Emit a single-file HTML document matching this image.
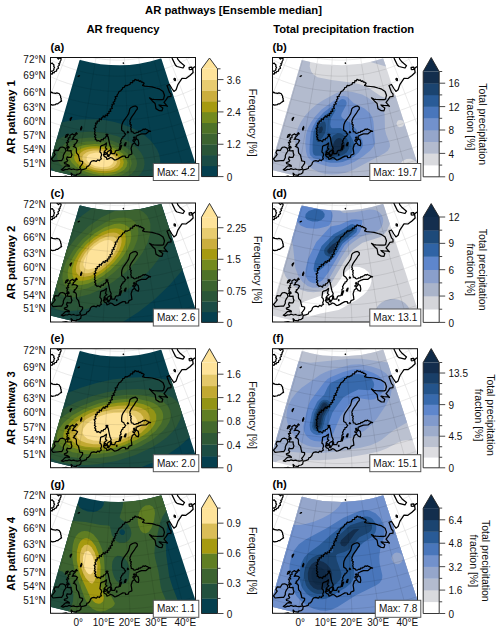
<!DOCTYPE html><html><head><meta charset="utf-8"><style>html,body{margin:0;padding:0;background:#fff}svg{display:block}.t10{font-family:"Liberation Sans",sans-serif;font-size:10px;fill:#111}.t105{font-family:"Liberation Sans",sans-serif;font-size:10.5px;fill:#111}.b11{font-family:"Liberation Sans",sans-serif;font-size:11.25px;font-weight:bold;fill:#000}</style></head><body>
<svg width="500" height="631" viewBox="0 0 500 631">
<defs><clipPath id="fr"><rect x="0" y="0" width="145.0" height="119.0"/></clipPath><clipPath id="fan"><path d="M29.6,3.2 30.9,3.6 32.2,4.0 33.6,4.3 34.9,4.7 36.3,5.0 37.6,5.3 39.0,5.6 40.4,5.9 41.7,6.1 43.1,6.4 44.5,6.6 45.8,6.9 47.2,7.1 48.6,7.3 49.9,7.5 51.3,7.6 52.7,7.8 54.1,7.9 55.5,8.1 56.9,8.2 58.2,8.3 59.6,8.4 61.0,8.4 62.4,8.5 63.8,8.6 65.2,8.6 66.6,8.6 68.0,8.6 69.4,8.6 70.7,8.6 72.1,8.5 73.5,8.5 74.9,8.4 76.3,8.3 77.7,8.3 79.1,8.1 80.5,8.0 81.8,7.9 83.2,7.7 84.6,7.6 86.0,7.4 87.4,7.2 88.7,7.0 90.1,6.8 91.5,6.6 92.8,6.3 94.2,6.1 95.6,5.8 96.9,5.5 98.3,5.2 99.6,4.9 101.0,4.6 102.3,4.2 103.7,3.9 105.0,3.5 106.4,3.1 107.7,2.7 109.0,2.3 110.3,1.9 145.0,109.0 142.6,109.8 140.2,110.5 137.8,111.2 135.4,111.9 133.0,112.6 130.5,113.2 128.1,113.8 125.6,114.4 123.2,115.0 120.7,115.5 118.2,116.1 115.8,116.6 113.3,117.0 110.8,117.5 108.3,117.9 105.8,118.3 103.3,118.7 100.8,119.0 98.3,119.3 95.8,119.6 93.3,119.9 90.8,120.1 88.3,120.4 85.8,120.6 83.3,120.7 80.7,120.9 78.2,121.0 75.7,121.1 73.2,121.1 70.7,121.2 68.1,121.2 65.6,121.2 63.1,121.2 60.6,121.1 58.1,121.0 55.5,120.9 53.0,120.8 50.5,120.6 48.0,120.4 45.5,120.2 43.0,120.0 40.5,119.7 38.0,119.4 35.4,119.1 33.0,118.8 30.5,118.4 28.0,118.0 25.5,117.6 23.0,117.2 20.5,116.7 18.0,116.2 15.6,115.7 13.1,115.2 10.6,114.6 8.2,114.0 5.7,113.4 3.3,112.8 0.9,112.1 -1.6,111.4Z"/></clipPath><path id="grat" d="M-138.2,62.7 -134.4,66.6 -130.6,70.4 -126.8,74.2 -122.8,77.9 -118.8,81.5 -114.7,85.1 -110.5,88.5 -106.3,91.9 -102.0,95.2 -97.7,98.4 -93.3,101.6 -88.8,104.6 -84.3,107.6 -79.7,110.5 -75.1,113.2 -70.4,115.9 -65.6,118.5 -60.8,121.1 -56.0,123.5 -51.1,125.8 -46.2,128.1 -41.2,130.2 -36.2,132.2 -31.2,134.2 -26.1,136.0 -21.0,137.8 -15.8,139.4 -10.6,141.0 -5.4,142.5 -0.2,143.8 5.1,145.1 10.4,146.2 15.7,147.3 21.0,148.2 26.4,149.1 31.7,149.8 37.1,150.4 42.5,151.0 47.9,151.4 53.3,151.7 58.7,152.0 64.1,152.1 69.5,152.1 74.9,152.0 80.3,151.8 85.7,151.5 91.1,151.2 96.5,150.7 101.9,150.0 107.2,149.3 112.6,148.5 117.9,147.6 123.2,146.6 128.5,145.5 133.8,144.3 139.0,142.9 144.3,141.5 149.5,140.0 154.6,138.4 159.8,136.7 164.9,134.9 169.9,132.9 174.9,130.9 179.9,128.8 184.9,126.6 189.8,124.3 194.6,121.9 199.4,119.5 204.2,116.9 208.9,114.2 213.6,111.5 218.2,108.6 222.7,105.7 227.2,102.7 231.6,99.6 236.0,96.4 240.3,93.1 244.5,89.7 248.7,86.3 M-129.1,54.2 -125.6,58.0 -121.9,61.7 -118.2,65.3 -114.5,68.8 -110.6,72.3 -106.7,75.6 -102.7,79.0 -98.7,82.2 -94.6,85.4 -90.4,88.4 -86.2,91.4 -81.9,94.3 -77.6,97.2 -73.2,99.9 -68.8,102.6 -64.3,105.2 -59.8,107.7 -55.2,110.1 -50.6,112.4 -45.9,114.6 -41.2,116.8 -36.4,118.8 -31.7,120.8 -26.8,122.6 -22.0,124.4 -17.1,126.1 -12.1,127.6 -7.2,129.1 -2.2,130.5 2.8,131.8 7.8,133.0 12.9,134.1 18.0,135.1 23.1,136.0 28.2,136.8 33.3,137.6 38.4,138.2 43.6,138.7 48.7,139.1 53.9,139.4 59.1,139.6 64.2,139.7 69.4,139.8 74.6,139.7 79.8,139.5 84.9,139.2 90.1,138.8 95.2,138.4 100.4,137.8 105.5,137.1 110.6,136.3 115.7,135.5 120.8,134.5 125.9,133.4 130.9,132.3 135.9,131.0 140.9,129.6 145.9,128.2 150.8,126.6 155.7,125.0 160.6,123.3 165.4,121.4 170.2,119.5 175.0,117.5 179.7,115.4 184.4,113.2 189.1,110.9 193.7,108.5 198.2,106.1 202.7,103.5 207.2,100.9 211.6,98.2 215.9,95.4 220.2,92.5 224.4,89.5 228.6,86.5 232.7,83.3 236.8,80.1 240.8,76.8 M-120.1,45.7 -116.7,49.3 -113.2,52.8 -109.7,56.3 -106.0,59.6 -102.4,62.9 -98.7,66.2 -94.9,69.3 -91.0,72.4 -87.1,75.4 -83.1,78.4 -79.1,81.2 -75.0,84.0 -70.9,86.7 -66.7,89.3 -62.5,91.9 -58.2,94.3 -53.9,96.7 -49.5,99.0 -45.1,101.2 -40.7,103.3 -36.2,105.4 -31.6,107.3 -27.1,109.2 -22.5,111.0 -17.8,112.7 -13.2,114.3 -8.5,115.8 -3.7,117.2 1.0,118.5 5.8,119.8 10.6,120.9 15.4,122.0 20.3,122.9 25.1,123.8 30.0,124.5 34.9,125.2 39.8,125.8 44.7,126.3 49.6,126.7 54.5,127.0 59.5,127.2 64.4,127.3 69.3,127.3 74.3,127.3 79.2,127.1 84.1,126.8 89.1,126.5 94.0,126.0 98.9,125.4 103.8,124.8 108.6,124.1 113.5,123.2 118.4,122.3 123.2,121.3 128.0,120.2 132.8,119.0 137.5,117.7 142.3,116.3 147.0,114.8 151.7,113.2 156.3,111.6 160.9,109.8 165.5,108.0 170.1,106.1 174.6,104.1 179.0,102.0 183.5,99.8 187.8,97.5 192.2,95.2 196.5,92.8 200.7,90.2 204.9,87.7 209.1,85.0 213.2,82.2 217.2,79.4 221.2,76.5 225.1,73.5 229.0,70.4 232.8,67.3 M-110.9,37.2 -107.6,40.6 -104.3,43.9 -101.0,47.2 -97.6,50.4 -94.1,53.5 -90.5,56.6 -86.9,59.6 -83.3,62.6 -79.5,65.4 -75.8,68.2 -71.9,70.9 -68.1,73.6 -64.1,76.1 -60.2,78.6 -56.1,81.1 -52.1,83.4 -48.0,85.7 -43.8,87.8 -39.6,89.9 -35.4,92.0 -31.1,93.9 -26.8,95.8 -22.4,97.5 -18.1,99.2 -13.6,100.8 -9.2,102.4 -4.7,103.8 -0.2,105.1 4.3,106.4 8.8,107.6 13.4,108.7 18.0,109.7 22.6,110.6 27.2,111.4 31.8,112.1 36.5,112.8 41.1,113.3 45.8,113.8 50.5,114.2 55.2,114.5 59.9,114.7 64.6,114.8 69.3,114.8 74.0,114.7 78.6,114.5 83.3,114.3 88.0,113.9 92.7,113.5 97.3,113.0 102.0,112.4 106.6,111.7 111.3,110.9 115.9,110.0 120.5,109.0 125.0,108.0 129.6,106.8 134.1,105.6 138.6,104.3 143.1,102.9 147.6,101.4 152.0,99.8 156.4,98.1 160.7,96.4 165.1,94.6 169.3,92.7 173.6,90.7 177.8,88.6 182.0,86.4 186.1,84.2 190.2,81.9 194.2,79.5 198.2,77.0 202.2,74.5 206.1,71.9 209.9,69.2 213.7,66.4 217.4,63.6 221.1,60.7 224.7,57.7 M-101.6,28.5 -98.5,31.7 -95.4,34.9 -92.2,38.0 -89.0,41.0 -85.7,44.0 -82.3,46.9 -78.9,49.8 -75.4,52.6 -71.9,55.3 -68.3,57.9 -64.7,60.5 -61.0,63.0 -57.3,65.4 -53.5,67.8 -49.7,70.1 -45.8,72.3 -41.9,74.5 -38.0,76.5 -34.0,78.5 -30.0,80.4 -25.9,82.3 -21.9,84.0 -17.7,85.7 -13.6,87.3 -9.4,88.8 -5.2,90.3 -1.0,91.6 3.3,92.9 7.6,94.1 11.9,95.2 16.2,96.3 20.6,97.2 24.9,98.1 29.3,98.9 33.7,99.6 38.1,100.2 42.5,100.7 47.0,101.1 51.4,101.5 55.8,101.8 60.3,101.9 64.7,102.0 69.2,102.1 73.6,102.0 78.1,101.8 82.5,101.6 87.0,101.3 91.4,100.9 95.8,100.4 100.2,99.8 104.6,99.1 109.0,98.4 113.4,97.5 117.7,96.6 122.1,95.6 126.4,94.5 130.7,93.4 134.9,92.1 139.2,90.8 143.4,89.4 147.6,87.9 151.8,86.3 155.9,84.6 160.0,82.9 164.1,81.1 168.1,79.2 172.1,77.2 176.0,75.2 179.9,73.1 183.8,70.9 187.6,68.6 191.4,66.3 195.2,63.9 198.9,61.4 202.5,58.8 206.1,56.2 209.6,53.5 213.1,50.8 216.6,47.9 M-92.1,19.7 -89.2,22.7 -86.3,25.7 -83.3,28.6 -80.2,31.5 -77.1,34.3 -73.9,37.1 -70.7,39.8 -67.4,42.4 -64.1,44.9 -60.7,47.4 -57.3,49.9 -53.8,52.3 -50.3,54.6 -46.7,56.8 -43.1,58.9 -39.5,61.0 -35.8,63.1 -32.1,65.0 -28.3,66.9 -24.5,68.7 -20.7,70.4 -16.9,72.1 -13.0,73.7 -9.1,75.2 -5.1,76.6 -1.1,78.0 2.9,79.3 6.9,80.5 10.9,81.6 15.0,82.7 19.1,83.7 23.2,84.6 27.3,85.4 31.5,86.1 35.6,86.8 39.8,87.3 43.9,87.8 48.1,88.3 52.3,88.6 56.5,88.8 60.7,89.0 64.9,89.1 69.1,89.1 73.3,89.1 77.5,88.9 81.7,88.7 85.9,88.4 90.1,88.0 94.2,87.5 98.4,87.0 102.6,86.3 106.7,85.6 110.8,84.9 114.9,84.0 119.0,83.0 123.1,82.0 127.2,80.9 131.2,79.7 135.2,78.5 139.2,77.1 143.1,75.7 147.1,74.2 151.0,72.7 154.8,71.0 158.7,69.3 162.5,67.6 166.3,65.7 170.0,63.8 173.7,61.8 177.3,59.7 181.0,57.6 184.5,55.4 188.1,53.1 191.5,50.7 195.0,48.3 198.4,45.8 201.7,43.3 205.0,40.7 208.3,38.0 M-82.5,10.7 -79.8,13.5 -77.0,16.3 -74.2,19.1 -71.3,21.8 -68.3,24.4 -65.4,27.0 -62.3,29.5 -59.2,32.0 -56.1,34.4 -52.9,36.8 -49.7,39.0 -46.5,41.3 -43.2,43.4 -39.8,45.5 -36.4,47.6 -33.0,49.5 -29.6,51.4 -26.1,53.3 -22.5,55.0 -19.0,56.7 -15.4,58.4 -11.8,59.9 -8.1,61.4 -4.4,62.8 -0.7,64.2 3.0,65.5 6.8,66.7 10.6,67.8 14.4,68.9 18.2,69.9 22.0,70.8 25.9,71.6 29.8,72.4 33.6,73.1 37.5,73.7 41.5,74.2 45.4,74.7 49.3,75.1 53.2,75.4 57.2,75.7 61.1,75.8 65.1,75.9 69.0,75.9 73.0,75.9 76.9,75.7 80.9,75.5 84.8,75.2 88.7,74.9 92.6,74.4 96.6,73.9 100.5,73.3 104.4,72.6 108.2,71.9 112.1,71.1 115.9,70.2 119.8,69.2 123.6,68.2 127.4,67.1 131.1,65.9 134.9,64.7 138.6,63.3 142.3,61.9 145.9,60.5 149.6,58.9 153.2,57.3 156.8,55.7 160.3,53.9 163.8,52.1 167.3,50.2 170.7,48.3 174.1,46.3 177.5,44.2 180.8,42.0 184.1,39.8 187.3,37.6 190.5,35.3 193.6,32.9 196.7,30.4 199.8,27.9 M-72.6,1.4 -70.0,4.1 -67.4,6.7 -64.8,9.3 -62.1,11.8 -59.4,14.3 -56.6,16.7 -53.8,19.0 -50.9,21.3 -48.0,23.6 -45.0,25.8 -42.0,27.9 -38.9,30.0 -35.9,32.0 -32.7,34.0 -29.6,35.9 -26.4,37.7 -23.1,39.5 -19.9,41.2 -16.6,42.9 -13.3,44.5 -9.9,46.0 -6.5,47.4 -3.1,48.8 0.3,50.2 3.8,51.4 7.3,52.6 10.8,53.7 14.3,54.8 17.9,55.8 21.5,56.7 25.0,57.6 28.6,58.4 32.3,59.1 35.9,59.7 39.5,60.3 43.2,60.8 46.9,61.2 50.5,61.6 54.2,61.9 57.9,62.1 61.6,62.3 65.2,62.4 68.9,62.4 72.6,62.3 76.3,62.2 80.0,62.0 83.7,61.7 87.3,61.4 91.0,61.0 94.7,60.5 98.3,59.9 101.9,59.3 105.6,58.6 109.2,57.9 112.8,57.0 116.3,56.1 119.9,55.2 123.4,54.1 127.0,53.0 130.4,51.9 133.9,50.6 137.4,49.3 140.8,47.9 144.2,46.5 147.6,45.0 150.9,43.4 154.2,41.8 157.5,40.1 160.7,38.4 163.9,36.5 167.1,34.7 170.2,32.7 173.3,30.7 176.4,28.7 179.4,26.6 182.4,24.4 185.3,22.2 188.2,19.9 191.1,17.5 M-62.4,-8.1 -60.0,-5.7 -57.6,-3.2 -55.1,-0.8 -52.7,1.5 -50.1,3.8 -47.5,6.0 -44.9,8.2 -42.2,10.4 -39.5,12.4 -36.8,14.5 -34.0,16.5 -31.2,18.4 -28.3,20.3 -25.4,22.1 -22.5,23.8 -19.5,25.5 -16.5,27.2 -13.5,28.8 -10.4,30.3 -7.4,31.8 -4.2,33.2 -1.1,34.5 2.1,35.8 5.3,37.1 8.5,38.2 11.7,39.3 15.0,40.4 18.2,41.4 21.5,42.3 24.8,43.1 28.2,43.9 31.5,44.7 34.8,45.3 38.2,45.9 41.6,46.5 45.0,46.9 48.4,47.3 51.8,47.7 55.2,48.0 58.6,48.2 62.0,48.3 65.4,48.4 68.8,48.4 72.3,48.3 75.7,48.2 79.1,48.0 82.5,47.8 85.9,47.5 89.3,47.1 92.7,46.6 96.1,46.1 99.4,45.6 102.8,44.9 106.1,44.2 109.5,43.4 112.8,42.6 116.1,41.7 119.4,40.7 122.6,39.7 125.9,38.6 129.1,37.5 132.3,36.3 135.5,35.0 138.6,33.7 141.7,32.3 144.8,30.8 147.9,29.3 150.9,27.8 154.0,26.1 156.9,24.4 159.9,22.7 162.8,20.9 165.6,19.1 168.5,17.1 171.3,15.2 174.0,13.2 176.8,11.1 179.5,9.0 182.1,6.8 M-51.7,-18.0 -49.6,-15.8 -47.4,-13.5 -45.1,-11.3 -42.8,-9.2 -40.5,-7.1 -38.1,-5.0 -35.7,-3.0 -33.3,-1.1 -30.8,0.9 -28.3,2.7 -25.7,4.5 -23.1,6.3 -20.5,8.0 -17.8,9.7 -15.1,11.3 -12.4,12.9 -9.7,14.4 -6.9,15.9 -4.1,17.3 -1.2,18.6 1.6,19.9 4.5,21.2 7.4,22.3 10.3,23.5 13.3,24.5 16.3,25.6 19.3,26.5 22.3,27.4 25.3,28.3 28.3,29.1 31.4,29.8 34.5,30.5 37.5,31.1 40.6,31.6 43.7,32.1 46.8,32.5 50.0,32.9 53.1,33.2 56.2,33.5 59.3,33.7 62.5,33.8 65.6,33.9 68.8,33.9 71.9,33.8 75.0,33.7 78.2,33.5 81.3,33.3 84.4,33.0 87.5,32.7 90.7,32.3 93.8,31.8 96.9,31.3 99.9,30.7 103.0,30.0 106.1,29.3 109.1,28.6 112.2,27.7 115.2,26.9 118.2,25.9 121.1,24.9 124.1,23.9 127.0,22.7 129.9,21.6 132.8,20.4 135.7,19.1 138.6,17.7 141.4,16.4 144.2,14.9 146.9,13.4 149.7,11.9 152.4,10.3 155.0,8.6 157.7,6.9 160.3,5.2 162.8,3.4 165.4,1.5 167.9,-0.4 170.3,-2.3 172.8,-4.3 M-40.6,-28.4 -38.7,-26.3 -36.7,-24.3 -34.6,-22.3 -32.6,-20.4 -30.4,-18.5 -28.3,-16.6 -26.1,-14.8 -23.9,-13.0 -21.6,-11.3 -19.3,-9.6 -17.0,-7.9 -14.7,-6.3 -12.3,-4.8 -9.9,-3.3 -7.4,-1.8 -4.9,-0.4 -2.5,1.0 0.1,2.3 2.6,3.6 5.2,4.8 7.8,6.0 10.4,7.1 13.0,8.2 15.7,9.2 18.4,10.2 21.1,11.1 23.8,12.0 26.5,12.8 29.2,13.6 32.0,14.3 34.8,15.0 37.5,15.6 40.3,16.1 43.1,16.6 46.0,17.1 48.8,17.5 51.6,17.8 54.4,18.1 57.3,18.3 60.1,18.5 63.0,18.6 65.8,18.7 68.7,18.7 71.5,18.6 74.4,18.5 77.2,18.4 80.0,18.2 82.9,17.9 85.7,17.6 88.5,17.2 91.3,16.8 94.2,16.3 97.0,15.8 99.7,15.2 102.5,14.5 105.3,13.9 108.0,13.1 110.8,12.3 113.5,11.5 116.2,10.5 118.9,9.6 121.5,8.6 124.2,7.5 126.8,6.4 129.4,5.3 132.0,4.0 134.5,2.8 137.1,1.5 139.6,0.1 142.0,-1.3 144.5,-2.7 146.9,-4.2 149.3,-5.8 151.7,-7.4 154.0,-9.0 156.3,-10.7 158.6,-12.4 160.8,-14.2 163.0,-16.0 M-28.9,-39.4 -27.1,-37.5 -25.3,-35.7 -23.5,-34.0 -21.7,-32.2 -19.8,-30.5 -17.9,-28.9 -15.9,-27.2 -13.9,-25.7 -11.9,-24.1 -9.9,-22.6 -7.8,-21.1 -5.7,-19.7 -3.6,-18.3 -1.4,-17.0 0.7,-15.6 2.9,-14.4 5.2,-13.2 7.4,-12.0 9.7,-10.8 12.0,-9.7 14.3,-8.7 16.6,-7.7 19.0,-6.7 21.3,-5.8 23.7,-4.9 26.1,-4.1 28.5,-3.3 31.0,-2.6 33.4,-1.9 35.9,-1.3 38.3,-0.7 40.8,-0.2 43.3,0.3 45.8,0.8 48.3,1.2 50.8,1.5 53.4,1.8 55.9,2.1 58.4,2.3 60.9,2.4 63.5,2.5 66.0,2.6 68.6,2.6 71.1,2.6 73.6,2.5 76.2,2.3 78.7,2.1 81.2,1.9 83.8,1.6 86.3,1.3 88.8,0.9 91.3,0.5 93.8,0.0 96.3,-0.5 98.7,-1.1 101.2,-1.7 103.7,-2.4 106.1,-3.1 108.5,-3.8 110.9,-4.7 113.3,-5.5 115.7,-6.4 118.0,-7.3 120.4,-8.3 122.7,-9.4 125.0,-10.4 127.3,-11.6 129.5,-12.7 131.8,-13.9 134.0,-15.2 136.2,-16.5 138.3,-17.8 140.5,-19.2 142.6,-20.6 144.6,-22.1 146.7,-23.6 148.7,-25.1 150.7,-26.7 152.7,-28.3 M-16.3,-51.2 -14.7,-49.6 -13.2,-48.0 -11.6,-46.4 -10.0,-44.9 -8.4,-43.5 -6.7,-42.0 -5.0,-40.6 -3.3,-39.2 -1.5,-37.9 0.2,-36.6 2.0,-35.3 3.9,-34.0 5.7,-32.8 7.6,-31.7 9.5,-30.5 11.4,-29.4 13.3,-28.4 15.3,-27.3 17.3,-26.3 19.2,-25.4 21.3,-24.5 23.3,-23.6 25.3,-22.8 27.4,-22.0 29.5,-21.2 31.6,-20.5 33.7,-19.8 35.8,-19.2 37.9,-18.6 40.0,-18.0 42.2,-17.5 44.3,-17.1 46.5,-16.6 48.7,-16.2 50.9,-15.9 53.0,-15.6 55.2,-15.3 57.4,-15.1 59.6,-14.9 61.8,-14.8 64.0,-14.7 66.2,-14.7 68.5,-14.7 70.7,-14.7 72.9,-14.8 75.1,-14.9 77.3,-15.1 79.5,-15.3 81.7,-15.5 83.9,-15.8 86.0,-16.1 88.2,-16.5 90.4,-16.9 92.5,-17.4 94.7,-17.9 96.8,-18.4 99.0,-19.0 101.1,-19.6 103.2,-20.3 105.3,-21.0 107.4,-21.7 109.4,-22.5 111.5,-23.3 113.5,-24.2 115.5,-25.1 117.5,-26.0 119.5,-27.0 121.5,-28.0 123.4,-29.0 125.3,-30.1 127.2,-31.2 129.1,-32.4 131.0,-33.6 132.8,-34.8 134.6,-36.1 136.4,-37.4 138.1,-38.7 139.9,-40.1 141.6,-41.5 M-2.5,-64.1 -1.2,-62.7 0.1,-61.4 1.4,-60.1 2.8,-58.9 4.2,-57.6 5.5,-56.4 7.0,-55.2 8.4,-54.1 9.9,-53.0 11.3,-51.9 12.8,-50.8 14.4,-49.8 15.9,-48.7 17.5,-47.8 19.1,-46.8 20.7,-45.9 22.3,-45.0 23.9,-44.1 25.6,-43.3 27.2,-42.5 28.9,-41.8 30.6,-41.0 32.3,-40.3 34.0,-39.7 35.8,-39.0 37.5,-38.4 39.3,-37.9 41.0,-37.3 42.8,-36.9 44.6,-36.4 46.4,-36.0 48.2,-35.6 50.0,-35.2 51.8,-34.9 53.6,-34.6 55.5,-34.3 57.3,-34.1 59.1,-33.9 61.0,-33.8 62.8,-33.7 64.7,-33.6 66.5,-33.6 68.3,-33.6 70.2,-33.6 72.0,-33.7 73.9,-33.8 75.7,-33.9 77.5,-34.1 79.4,-34.3 81.2,-34.5 83.0,-34.8 84.9,-35.1 86.7,-35.4 88.5,-35.8 90.3,-36.2 92.1,-36.7 93.8,-37.2 95.6,-37.7 97.4,-38.2 99.1,-38.8 100.9,-39.4 102.6,-40.1 104.3,-40.8 106.0,-41.5 107.7,-42.2 109.3,-43.0 111.0,-43.8 112.6,-44.7 114.3,-45.6 115.9,-46.5 117.5,-47.4 119.0,-48.4 120.6,-49.4 122.1,-50.4 123.6,-51.5 125.1,-52.6 126.6,-53.7 128.0,-54.8 129.4,-56.0 M-144.2,68.3 -140.7,65.0 -137.3,61.8 -133.8,58.6 -130.3,55.3 -126.8,52.1 -123.3,48.8 -119.8,45.5 -116.3,42.2 -112.8,38.9 -109.2,35.6 -105.7,32.3 -102.1,28.9 -98.5,25.6 -94.8,22.2 -91.2,18.8 -87.5,15.3 -83.7,11.8 -80.0,8.3 -76.2,4.8 -72.3,1.2 -68.4,-2.5 -64.5,-6.1 -60.5,-9.9 -56.4,-13.7 -52.3,-17.5 -48.1,-21.4 -43.8,-25.4 -39.5,-29.5 -35.0,-33.7 -30.4,-37.9 -25.7,-42.3 -20.9,-46.8 -15.9,-51.5 -10.8,-56.3 -5.4,-61.3 0.2,-66.5 6.1,-72.0 12.3,-77.9 19.1,-84.1 M-121.5,90.0 -118.4,86.4 -115.3,82.8 -112.2,79.2 -109.1,75.6 -106.0,72.0 -102.9,68.4 -99.8,64.8 -96.6,61.1 -93.5,57.5 -90.3,53.8 -87.1,50.1 -83.9,46.4 -80.7,42.6 -77.5,38.9 -74.2,35.1 -70.9,31.2 -67.5,27.4 -64.2,23.5 -60.8,19.5 -57.4,15.6 -53.9,11.5 -50.4,7.4 -46.8,3.3 -43.2,-0.9 -39.5,-5.2 -35.7,-9.5 -31.9,-14.0 -28.0,-18.5 -24.0,-23.1 -19.9,-27.9 -15.8,-32.7 -11.4,-37.7 -7.0,-42.9 -2.4,-48.2 2.4,-53.8 7.4,-59.6 12.7,-65.7 18.3,-72.2 24.3,-79.1 M-96.7,109.2 -94.0,105.3 -91.3,101.4 -88.6,97.5 -85.9,93.6 -83.2,89.7 -80.5,85.7 -77.8,81.8 -75.0,77.8 -72.3,73.8 -69.6,69.8 -66.8,65.8 -64.0,61.8 -61.2,57.7 -58.4,53.6 -55.5,49.5 -52.7,45.3 -49.8,41.1 -46.9,36.9 -43.9,32.6 -40.9,28.2 -37.9,23.9 -34.8,19.4 -31.7,14.9 -28.6,10.3 -25.4,5.7 -22.1,0.9 -18.8,-3.9 -15.4,-8.8 -12.0,-13.8 -8.4,-19.0 -4.8,-24.3 -1.0,-29.7 2.8,-35.3 6.8,-41.1 11.0,-47.2 15.3,-53.5 19.9,-60.1 24.8,-67.2 30.0,-74.7 M-69.9,125.6 -67.6,121.4 -65.4,117.3 -63.1,113.1 -60.9,108.9 -58.6,104.7 -56.3,100.5 -54.1,96.3 -51.8,92.0 -49.5,87.8 -47.2,83.5 -44.9,79.2 -42.5,74.9 -40.2,70.5 -37.8,66.2 -35.4,61.7 -33.0,57.3 -30.6,52.8 -28.2,48.3 -25.7,43.7 -23.2,39.1 -20.7,34.4 -18.1,29.6 -15.5,24.8 -12.9,19.9 -10.2,15.0 -7.5,9.9 -4.7,4.8 -1.9,-0.5 1.0,-5.9 4.0,-11.4 7.0,-17.0 10.2,-22.8 13.4,-28.8 16.8,-35.0 20.2,-41.5 23.9,-48.3 27.7,-55.4 31.8,-62.9 36.1,-71.0 M-41.5,139.0 -39.7,134.6 -37.9,130.2 -36.1,125.8 -34.3,121.4 -32.5,117.0 -30.7,112.6 -28.9,108.1 -27.1,103.7 -25.3,99.2 -23.4,94.7 -21.6,90.2 -19.8,85.6 -17.9,81.0 -16.0,76.4 -14.1,71.8 -12.2,67.1 -10.3,62.4 -8.4,57.6 -6.4,52.8 -4.4,47.9 -2.4,43.0 -0.4,38.0 1.7,32.9 3.8,27.8 5.9,22.5 8.0,17.2 10.3,11.8 12.5,6.3 14.8,0.6 17.2,-5.2 19.6,-11.1 22.1,-17.2 24.6,-23.5 27.3,-30.1 30.0,-36.9 32.9,-44.0 36.0,-51.5 39.2,-59.4 42.7,-67.9 M-11.8,149.2 -10.5,144.7 -9.2,140.1 -7.9,135.5 -6.6,131.0 -5.3,126.4 -3.9,121.8 -2.6,117.2 -1.3,112.5 0.0,107.9 1.3,103.2 2.7,98.5 4.0,93.8 5.4,89.1 6.8,84.3 8.1,79.5 9.5,74.6 10.9,69.7 12.3,64.7 13.8,59.7 15.2,54.7 16.7,49.6 18.1,44.4 19.6,39.1 21.2,33.8 22.7,28.3 24.3,22.8 25.9,17.2 27.5,11.5 29.2,5.6 30.9,-0.4 32.7,-6.6 34.5,-13.0 36.4,-19.5 38.3,-26.3 40.3,-33.3 42.4,-40.7 44.6,-48.5 47.0,-56.7 49.5,-65.5 M18.9,156.2 19.7,151.5 20.5,146.8 21.3,142.2 22.1,137.5 22.9,132.8 23.7,128.1 24.5,123.3 25.3,118.6 26.1,113.8 26.9,109.0 27.7,104.2 28.6,99.4 29.4,94.5 30.2,89.6 31.1,84.7 31.9,79.7 32.8,74.7 33.7,69.6 34.5,64.5 35.4,59.3 36.3,54.0 37.2,48.7 38.2,43.3 39.1,37.9 40.1,32.3 41.0,26.6 42.0,20.9 43.0,15.0 44.0,9.0 45.1,2.8 46.2,-3.5 47.3,-10.0 48.4,-16.8 49.6,-23.7 50.9,-30.9 52.2,-38.5 53.5,-46.5 55.0,-54.9 56.5,-63.9 M50.1,159.8 50.4,155.1 50.6,150.3 50.9,145.6 51.2,140.9 51.5,136.1 51.8,131.3 52.1,126.5 52.4,121.7 52.7,116.9 53.0,112.1 53.3,107.2 53.6,102.3 53.9,97.4 54.2,92.4 54.5,87.4 54.8,82.3 55.1,77.3 55.4,72.1 55.7,66.9 56.1,61.7 56.4,56.4 56.7,51.0 57.0,45.5 57.4,40.0 57.7,34.3 58.1,28.6 58.4,22.8 58.8,16.8 59.2,10.7 59.6,4.5 59.9,-1.9 60.3,-8.5 60.8,-15.3 61.2,-22.4 61.6,-29.7 62.1,-37.4 62.6,-45.4 63.1,-53.9 63.7,-63.1 M81.5,160.0 81.2,155.3 81.0,150.5 80.8,145.8 80.6,141.1 80.3,136.3 80.1,131.5 79.9,126.7 79.7,121.9 79.4,117.1 79.2,112.2 79.0,107.4 78.7,102.5 78.5,97.5 78.3,92.6 78.0,87.6 77.8,82.5 77.6,77.4 77.3,72.3 77.1,67.1 76.8,61.8 76.6,56.5 76.3,51.1 76.0,45.6 75.8,40.1 75.5,34.5 75.2,28.7 75.0,22.9 74.7,16.9 74.4,10.8 74.1,4.6 73.8,-1.8 73.5,-8.4 73.2,-15.2 72.8,-22.3 72.5,-29.6 72.1,-37.3 71.7,-45.3 71.3,-53.9 70.9,-63.1 M112.7,156.8 112.0,152.1 111.2,147.5 110.5,142.8 109.8,138.1 109.0,133.4 108.3,128.6 107.5,123.9 106.8,119.2 106.1,114.4 105.3,109.6 104.5,104.8 103.8,99.9 103.0,95.0 102.2,90.1 101.5,85.2 100.7,80.2 99.9,75.1 99.1,70.0 98.3,64.9 97.5,59.7 96.6,54.4 95.8,49.1 95.0,43.7 94.1,38.2 93.2,32.7 92.3,27.0 91.4,21.2 90.5,15.3 89.5,9.3 88.6,3.1 87.6,-3.2 86.6,-9.8 85.5,-16.5 84.4,-23.5 83.3,-30.7 82.1,-38.3 80.8,-46.3 79.5,-54.7 78.1,-63.8 M143.4,150.3 142.2,145.7 141.0,141.1 139.7,136.6 138.5,132.0 137.2,127.4 136.0,122.7 134.7,118.1 133.5,113.5 132.2,108.8 131.0,104.1 129.7,99.4 128.4,94.7 127.1,89.9 125.8,85.1 124.5,80.3 123.2,75.4 121.8,70.5 120.5,65.5 119.1,60.5 117.8,55.4 116.4,50.2 115.0,45.0 113.5,39.8 112.1,34.4 110.6,28.9 109.1,23.4 107.6,17.8 106.0,12.0 104.4,6.1 102.8,0.1 101.1,-6.1 99.4,-12.5 97.6,-19.1 95.8,-25.9 93.9,-33.0 91.9,-40.4 89.8,-48.2 87.5,-56.4 85.1,-65.3 M173.3,140.4 171.5,136.0 169.8,131.6 168.1,127.2 166.4,122.8 164.6,118.3 162.9,113.9 161.1,109.4 159.4,104.9 157.6,100.4 155.9,95.9 154.1,91.4 152.3,86.8 150.5,82.2 148.7,77.6 146.9,72.9 145.0,68.2 143.2,63.4 141.3,58.6 139.4,53.8 137.5,48.9 135.5,43.9 133.6,38.9 131.6,33.8 129.6,28.6 127.5,23.4 125.4,18.0 123.3,12.6 121.1,7.0 118.9,1.3 116.6,-4.5 114.3,-10.5 111.9,-16.6 109.4,-23.0 106.8,-29.5 104.2,-36.4 101.4,-43.5 98.4,-51.0 95.3,-59.0 92.0,-67.6 M201.9,127.4 199.7,123.3 197.5,119.0 195.3,114.8 193.1,110.6 190.9,106.4 188.7,102.2 186.4,97.9 184.2,93.6 182.0,89.4 179.7,85.1 177.5,80.7 175.2,76.4 172.9,72.0 170.6,67.6 168.3,63.1 166.0,58.7 163.6,54.1 161.2,49.6 158.8,45.0 156.4,40.3 153.9,35.6 151.4,30.8 148.9,25.9 146.3,21.0 143.7,16.0 141.1,10.9 138.4,5.7 135.6,0.4 132.8,-5.0 129.9,-10.5 126.9,-16.2 123.9,-22.1 120.7,-28.1 117.4,-34.4 114.0,-40.9 110.5,-47.7 106.8,-54.8 102.8,-62.4 98.6,-70.5 M228.9,111.4 226.2,107.5 223.6,103.6 221.0,99.6 218.3,95.7 215.7,91.7 213.0,87.7 210.4,83.7 207.7,79.7 205.0,75.7 202.3,71.7 199.6,67.6 196.9,63.5 194.1,59.4 191.3,55.3 188.6,51.1 185.8,46.9 182.9,42.7 180.1,38.4 177.2,34.1 174.2,29.7 171.3,25.3 168.3,20.8 165.2,16.2 162.2,11.6 159.0,6.9 155.8,2.2 152.6,-2.7 149.3,-7.7 145.9,-12.7 142.4,-17.9 138.8,-23.3 135.2,-28.8 131.4,-34.4 127.4,-40.3 123.4,-46.4 119.1,-52.8 114.6,-59.5 109.9,-66.6 104.8,-74.2 M254.0,92.6 251.0,89.0 247.9,85.3 244.9,81.7 241.8,78.0 238.7,74.4 235.7,70.7 232.6,67.1 229.5,63.4 226.4,59.7 223.3,55.9 220.1,52.2 217.0,48.4 213.8,44.7 210.6,40.8 207.4,37.0 204.2,33.1 200.9,29.2 197.6,25.3 194.2,21.3 190.8,17.3 187.4,13.2 184.0,9.0 180.4,4.8 176.9,0.6 173.3,-3.7 169.6,-8.1 165.8,-12.6 162.0,-17.2 158.0,-21.9 154.0,-26.7 149.9,-31.6 145.7,-36.6 141.3,-41.9 136.8,-47.3 132.0,-52.9 127.1,-58.8 121.9,-65.0 116.4,-71.5 110.5,-78.5"/><path id="coast" d="M11.7,119.4 15.5,118.6 19.4,120.2 21.1,120.1 21.0,118.0 20.6,115.7 22.2,117.3 25.7,117.9 26.2,116.8 28.7,116.3 30.2,115.3 30.7,112.4 33.1,111.9 35.7,111.0 36.5,108.9 37.8,108.7 39.4,106.8 40.0,104.9 41.3,103.6 43.4,103.1 45.8,103.8 47.2,102.4 49.0,103.2 49.8,101.8 50.9,101.5 50.2,99.7 51.1,97.6 50.6,95.4 49.4,94.5 49.9,91.0 50.1,88.9 51.1,88.1 53.5,87.4 56.0,85.5 55.6,87.9 55.0,90.5 56.4,91.5 54.6,93.1 53.6,94.3 53.7,96.1 52.9,97.3 53.8,98.9 56.0,100.1 56.4,101.8 58.2,101.2 60.0,100.0 61.9,100.7 64.1,102.5 65.2,102.3 67.4,101.4 69.9,99.9 72.4,98.6 74.8,98.7 75.1,100.2 77.6,99.9 78.5,97.7 81.4,96.5 81.0,93.1 80.6,90.9 81.8,86.9 84.0,85.2 85.8,87.5 87.8,88.2 88.3,86.0 87.7,82.5 85.8,81.4 85.6,78.7 88.2,77.4 91.0,76.4 95.5,76.3 98.6,73.8 100.1,73.8 97.3,72.9 M97.7,72.5 95.9,72.1 94.9,71.4 93.8,72.1 92.6,71.6 91.7,72.7 90.6,73.0 89.7,73.9 88.3,73.7 87.7,75.0 86.3,74.9 85.3,75.5 84.2,75.8 83.0,75.5 82.4,74.3 80.8,74.1 80.7,72.7 80.2,71.5 80.7,70.1 80.1,68.8 80.9,67.5 79.3,66.5 80.0,65.1 79.0,64.0 M79.2,63.9 80.5,60.6 81.8,58.6 83.6,56.2 85.4,53.2 86.8,51.6 86.8,49.8 85.1,48.5 84.1,48.6 82.1,49.2 80.2,50.3 79.3,51.3 78.8,53.7 78.2,56.1 76.7,58.5 74.7,61.3 72.7,64.1 71.5,66.9 71.1,69.6 71.2,72.8 72.5,73.6 74.1,74.9 M73.6,75.2 75.2,76.7 74.4,77.6 74.1,78.7 72.5,79.0 72.4,80.5 71.2,81.1 70.9,82.4 70.0,83.6 70.6,85.3 69.4,86.7 69.7,88.3 M69.6,88.3 68.4,92.6 66.2,92.8 65.0,93.5 64.2,96.0 61.1,96.0 61.1,93.8 60.2,92.0 60.7,90.8 59.4,87.7 59.0,85.9 58.4,83.2 57.7,79.7 M58.1,79.5 56.7,78.7 57.4,77.1 56.5,76.7 55.5,77.0 56.3,78.5 55.4,79.2 54.4,80.6 53.0,80.8 52.7,82.3 50.8,82.0 50.0,84.2 48.2,83.0 46.5,83.5 46.1,82.3 44.7,81.8 45.3,80.3 44.1,79.2 45.3,77.7 43.9,76.5 44.6,75.3 44.1,74.2 44.6,72.6 43.6,70.9 45.4,69.9 44.5,68.3 45.7,67.0 45.0,65.6 46.8,65.6 46.6,63.5 48.8,63.6 48.8,61.3 50.9,62.2 51.0,60.3 52.2,60.1 52.7,58.4 54.5,59.7 54.8,57.7 57.1,58.2 56.8,56.1 58.6,55.8 58.3,53.8 60.3,53.8 59.6,51.7 61.9,51.0 61.0,49.3 61.9,48.3 61.5,46.9 63.8,46.5 62.7,44.8 64.4,43.8 64.2,42.1 65.4,41.2 64.7,39.2 66.6,39.0 66.5,37.7 67.7,36.0 68.5,34.1 70.4,33.2 71.0,32.1 72.0,31.4 72.2,30.0 73.6,29.8 74.8,27.9 76.5,28.2 77.7,27.5 79.4,27.0 80.0,25.2 82.1,25.1 82.4,23.1 83.8,23.4 84.5,21.8 86.6,22.9 87.9,22.5 88.8,23.8 90.3,23.4 90.8,24.6 92.2,24.7 93.8,25.8 M93.9,25.7 92.1,28.0 94.4,28.7 98.0,29.0 101.6,29.3 105.5,30.5 108.5,31.3 112.6,34.0 114.0,37.8 113.0,41.6 111.6,42.2 107.3,42.2 103.5,41.9 101.3,41.6 99.0,40.3 101.6,43.2 104.6,46.0 105.5,51.1 108.8,53.2 111.5,53.3 112.3,50.5 109.8,48.7 108.5,47.5 111.2,47.9 115.6,48.2 117.0,48.8 113.5,44.9 115.5,42.4 117.4,39.4 120.5,38.9 120.5,36.4 119.0,34.9 116.5,28.0 119.0,27.0 121.4,31.0 123.4,33.9 125.6,32.2 127.5,26.8 131.5,20.9 135.4,21.0 139.5,18.0 142.6,15.0 142.1,11.0 144.1,9.3 148.3,9.8 157.0,10.3 M30.3,111.3 29.2,109.8 30.5,108.1 32.1,105.8 32.1,104.0 29.2,103.4 29.0,101.6 28.6,100.5 28.2,98.7 27.9,97.5 26.2,95.6 25.9,93.7 25.9,91.3 25.1,89.8 22.8,88.9 24.2,87.9 23.7,87.1 24.7,86.6 25.8,85.3 26.3,84.3 27.1,83.1 25.6,82.0 23.3,81.5 21.6,82.0 22.8,80.7 22.6,80.0 25.1,77.6 24.2,77.6 M24.3,76.8 23.0,77.4 22.1,76.3 20.9,77.0 19.4,77.9 19.5,80.2 17.6,80.6 18.2,82.1 17.0,83.1 18.2,84.6 15.9,84.9 17.1,86.7 16.4,87.9 16.9,89.4 16.0,90.6 16.8,89.3 18.0,88.8 18.7,90.2 17.2,90.7 17.3,92.2 M17.2,92.1 16.8,93.1 18.6,93.3 20.6,93.1 20.7,95.3 21.4,97.2 20.7,99.4 20.0,99.9 17.7,99.9 16.7,99.4 16.0,101.5 17.2,103.0 16.4,104.2 13.8,105.1 14.1,106.2 16.2,106.7 18.6,107.9 18.9,108.8 15.8,108.3 14.6,108.9 12.8,110.7 10.8,112.2 12.6,112.8 15.0,111.8 16.9,112.0 18.5,111.1 21.0,112.0 23.0,111.5 24.3,112.0 26.9,112.4 29.1,111.9 30.3,111.3 M5.3,-0.9 6.8,0.4 7.9,1.6 9.3,0.4 10.6,1.1 10.4,2.7 9.5,4.2 9.5,5.5 8.3,6.1 8.9,7.6 7.4,8.9 8.0,10.8 6.3,11.8 6.0,13.6 4.3,14.0 3.5,15.4 2.2,15.0 1.6,16.7 0.3,16.3 -0.8,16.8 -2.0,15.9 -3.1,17.5 -4.4,16.1 -5.5,16.9 -6.8,16.2 -7.8,17.8 -9.1,17.0 -10.2,17.8 -11.5,16.8 M-2.0,5.0 -0.7,5.0 0.2,6.1 1.8,5.6 2.6,6.7 3.5,7.5 3.2,8.8 4.1,9.8 3.4,11.0 3.4,12.3 2.5,13.2 1.5,13.8 0.2,13.5 -1.0,14.1 -2.4,13.5 -3.8,13.5 -5.1,12.8 M-7.1,43.3 -5.8,43.9 -5.1,45.0 -3.9,45.5 -3.2,46.8 -1.8,46.8 -0.6,47.5 0.8,47.1 2.1,47.6 3.5,47.3 4.8,47.2 5.8,46.3 7.2,46.4 8.1,45.5 9.1,45.0 9.9,44.1 11.1,43.6 10.6,42.4 10.7,41.1 10.1,39.9 10.1,38.5 9.4,37.4 8.8,36.3 7.7,35.8 6.4,35.4 5.0,35.8 3.7,35.6 2.2,35.4 0.9,34.6 -0.2,35.7 -1.8,35.5 -3.1,36.7 -2.5,35.2 -3.3,34.0 -2.6,32.8 -3.1,32.0 -4.1,32.3 -5.1,33.2 -6.3,33.6 -7.2,34.4 -7.0,35.5 -6.0,36.2 -5.5,37.3 -4.6,38.3 -6.0,37.4 -7.5,37.9 -8.8,37.3 -8.4,38.5 -8.2,39.7 -7.6,40.8 -7.9,42.2 -6.6,42.9 M12.8,98.1 12.8,100.3 11.3,103.0 9.5,103.0 5.9,103.3 2.6,103.7 1.0,101.5 3.1,99.1 4.7,96.9 3.4,95.2 4.6,92.6 7.9,92.9 8.5,91.7 9.8,89.8 12.1,89.5 14.6,90.6 15.5,93.5 13.9,95.7 12.8,98.1 M121.2,-0.4 122.0,1.6 125.0,7.7 126.5,9.0 132.5,10.5 134.0,8.2 129.6,4.6 127.2,1.6 125.4,-4.6 123.8,-9.9 M138.8,12.1 141.5,11.8 141.3,9.6 138.6,9.9 138.8,12.1 M123.4,22.5 124.8,23.1 124.9,21.4 123.7,20.8 123.4,22.5 M72.6,6.1 73.1,5.8 72.8,5.3 72.6,6.1 M27.2,19.2 29.0,18.3 28.1,18.6 27.2,19.2 M19.6,61.0 21.2,59.9 19.8,62.9 19.6,61.0 M30.2,72.9 31.3,70.4 31.1,69.0 30.1,71.1 30.2,72.9 M24.8,76.8 26.8,76.3 25.8,75.2 24.8,76.8 M18.0,76.7 15.7,77.4 14.8,79.9 16.5,79.0 18.0,76.7 M73.6,88.2 75.0,88.1 75.6,85.1 74.9,85.3 73.6,88.2 M69.6,92.6 71.2,87.8 70.5,89.1 69.6,92.6 M82.0,83.0 83.7,84.2 85.4,81.8 84.2,81.5 82.0,83.0 M82.7,80.7 84.5,80.4 83.6,79.5 82.7,80.7 M76.6,75.3 78.1,74.8 77.2,73.9 76.6,75.3 M65.5,97.3 66.4,97.8 66.4,96.5 65.5,97.3 M56.7,94.5 59.0,92.9 60.4,93.4 59.8,96.4 58.8,97.8 56.9,96.7 56.7,94.5 M53.3,95.2 55.3,94.9 55.9,96.6 54.4,97.2 53.3,95.2 M56.3,98.4 58.5,99.1 57.6,97.8 56.3,98.4"/></defs>
<text x="233.5" y="14" text-anchor="middle" class="b11">AR pathways [Ensemble median]</text>
<text x="123" y="33" text-anchor="middle" class="b11">AR frequency</text>
<text x="343.7" y="32.5" text-anchor="middle" class="b11">Total precipitation fraction</text>
<text transform="translate(14.6,117.0) rotate(-90)" text-anchor="middle" class="b11">AR pathway 1</text>
<text transform="translate(14.6,262.5) rotate(-90)" text-anchor="middle" class="b11">AR pathway 2</text>
<text transform="translate(14.6,408.2) rotate(-90)" text-anchor="middle" class="b11">AR pathway 3</text>
<text transform="translate(14.6,553.8) rotate(-90)" text-anchor="middle" class="b11">AR pathway 4</text>
<text x="50.5" y="51.0" class="b11">(a)</text>
<g transform="translate(50.5,57.5)"><g clip-path="url(#fr)">
<use href="#grat" fill="none" stroke="#dcdcdc" stroke-width="0.6"/>
<path d="M-1.0,106.6 -1.0,112.4 17.9,117.0 36.1,120.0 99.4,120.0 123.3,115.8 135.6,112.7 145.6,109.5 145.8,108.7 110.9,1.3 110.2,1.1 99.5,4.1 88.6,6.2 79.0,7.4 69.3,7.8 59.7,7.6 50.1,6.7 39.2,4.8 29.7,2.4 29.0,2.7Z" fill="#053f4e"/><path d="M28.6,62.0 19.0,63.3 10.9,65.1 -1.0,106.6 -1.0,112.4 17.9,117.0 36.1,120.0 99.4,120.0 104.3,119.3 105.3,118.0 108.1,113.0 109.5,108.0 109.8,103.0 108.7,97.0 106.6,92.0 103.0,86.4 99.0,82.0 93.0,77.1 87.0,73.3 80.0,69.8 72.0,66.8 64.0,64.5 55.0,62.8 46.0,61.8Z" fill="#1a4b45"/><path d="M26.8,75.0 16.0,77.6 6.0,82.4 -1.0,106.6 -0.6,109.0 4.5,113.9 20.4,117.5 36.1,120.0 85.7,120.0 89.3,117.0 91.7,114.0 93.2,111.0 94.0,107.0 93.8,103.0 92.6,99.0 90.4,95.0 87.1,91.0 83.0,87.2 78.0,83.8 67.0,78.7 54.0,75.3 40.0,74.0Z" fill="#2a5538"/><path d="M29.3,81.0 21.0,83.2 15.0,86.1 10.2,90.0 7.1,95.0 6.6,100.0 8.4,105.0 12.8,110.0 19.0,114.2 30.0,119.1 36.1,120.0 74.4,120.0 81.0,116.2 84.8,112.0 86.0,109.0 86.5,106.0 86.1,103.0 84.6,99.0 79.8,93.0 72.0,87.4 62.0,83.2 51.0,80.7 40.0,80.0Z" fill="#3c6330"/><path d="M36.0,84.0 28.0,85.5 22.0,87.9 17.5,91.0 14.4,95.0 13.5,99.0 15.0,104.0 18.4,108.0 23.8,112.0 32.0,116.0 41.0,118.7 49.8,120.0 60.0,120.0 67.0,118.8 72.0,117.1 77.0,114.0 79.6,111.0 81.2,106.0 80.2,101.0 76.8,96.0 71.0,91.3 63.0,87.3 54.0,84.8 45.0,83.7Z" fill="#4e7228"/><path d="M35.9,87.0 30.0,88.4 24.4,91.0 21.0,94.0 18.9,98.0 19.0,101.0 21.2,105.0 25.0,108.7 30.0,111.9 36.0,114.6 43.0,116.6 51.0,117.7 58.0,117.7 64.0,116.8 69.3,115.0 73.9,112.0 76.1,109.0 77.0,105.0 75.4,100.0 72.0,95.9 66.0,91.7 59.0,88.8 52.0,87.2 44.0,86.4Z" fill="#738a1e"/><path d="M39.7,89.0 34.3,90.0 30.0,91.6 26.4,94.0 24.1,97.0 23.5,100.0 24.4,103.0 26.7,106.0 31.0,109.4 36.0,112.0 42.0,114.1 48.0,115.3 54.0,115.7 60.0,115.2 65.0,114.0 69.0,112.0 72.1,109.0 73.3,105.0 72.3,101.0 69.2,97.0 65.1,94.0 60.0,91.6 53.0,89.6 46.0,88.8Z" fill="#a69a10"/><path d="M41.9,91.0 37.0,91.8 33.0,93.3 30.0,95.4 28.1,98.0 27.7,100.0 28.6,103.0 30.9,106.0 34.0,108.4 38.0,110.5 43.0,112.3 48.0,113.3 54.0,113.7 59.0,113.3 63.0,112.2 67.0,110.0 68.8,108.0 69.8,105.0 69.3,102.0 67.5,99.0 64.0,96.0 59.0,93.4 54.0,91.8 48.0,91.0Z" fill="#cbae3e"/><path d="M43.4,93.0 39.0,93.8 35.9,95.0 33.2,97.0 32.0,99.0 31.8,101.0 32.5,103.0 33.9,105.0 37.0,107.5 44.0,110.5 53.0,111.8 57.0,111.5 61.0,110.4 63.7,109.0 65.6,107.0 66.4,105.0 66.0,102.0 64.0,99.0 61.6,97.0 57.7,95.0 53.0,93.6 48.0,92.9Z" fill="#e8cc70"/><path d="M45.6,95.0 40.0,96.2 38.0,97.3 36.4,99.0 36.1,102.0 37.2,104.0 39.3,106.0 45.0,108.7 52.0,109.7 58.0,108.9 60.0,108.0 62.2,106.0 62.9,104.0 62.6,102.0 61.4,100.0 59.0,98.0 53.0,95.6Z" fill="#fee39a"/><path d="M43.9,98.0 41.0,100.0 40.7,102.0 41.9,104.0 45.0,106.0 49.0,107.1 54.0,107.1 57.0,106.0 58.7,104.0 58.2,101.0 55.0,98.6 49.0,97.3Z" fill="#fee39a"/><g clip-path="url(#fan)"><use href="#grat" fill="none" stroke="#000" stroke-opacity="0.15" stroke-width="0.6"/></g>
<use href="#coast" fill="none" stroke="#000" stroke-width="1.25" stroke-linejoin="round"/>
</g>
<rect x="0" y="0" width="145.0" height="119.0" fill="none" stroke="#111" stroke-width="1"/>
<rect x="102.8" y="106.0" width="45.5" height="17" fill="#fff" stroke="#555" stroke-width="1"/>
<text x="125.6" y="118.2" text-anchor="middle" class="t10">Max: 4.2</text>
</g>
<rect x="201.5" y="165.82" width="16.0" height="11.08" fill="#053f4e"/>
<rect x="201.5" y="155.04" width="16.0" height="11.08" fill="#1a4b45"/>
<rect x="201.5" y="144.26" width="16.0" height="11.08" fill="#2a5538"/>
<rect x="201.5" y="133.48" width="16.0" height="11.08" fill="#3c6330"/>
<rect x="201.5" y="122.70" width="16.0" height="11.08" fill="#4e7228"/>
<rect x="201.5" y="111.92" width="16.0" height="11.08" fill="#738a1e"/>
<rect x="201.5" y="101.14" width="16.0" height="11.08" fill="#a69a10"/>
<rect x="201.5" y="90.36" width="16.0" height="11.08" fill="#cbae3e"/>
<rect x="201.5" y="79.58" width="16.0" height="11.08" fill="#e8cc70"/>
<rect x="201.5" y="68.80" width="16.0" height="11.08" fill="#fee39a"/>
<path d="M201.5,68.8 L209.5,58.0 L217.5,68.8 Z" fill="#fee39a"/>
<path d="M201.5,176.6 L201.5,68.8 L209.5,58.0 L217.5,68.8 L217.5,176.6 Z" fill="none" stroke="#222" stroke-width="0.9"/>
<line x1="217.5" y1="176.60" x2="223.5" y2="176.60" stroke="#333" stroke-width="0.9"/>
<text x="226.8" y="180.70" class="t10">0</text>
<line x1="217.5" y1="165.82" x2="220.5" y2="165.82" stroke="#333" stroke-width="0.9"/>
<line x1="217.5" y1="155.04" x2="220.5" y2="155.04" stroke="#333" stroke-width="0.9"/>
<line x1="217.5" y1="144.26" x2="223.5" y2="144.26" stroke="#333" stroke-width="0.9"/>
<text x="226.8" y="148.36" class="t10">1.2</text>
<line x1="217.5" y1="133.48" x2="220.5" y2="133.48" stroke="#333" stroke-width="0.9"/>
<line x1="217.5" y1="122.70" x2="220.5" y2="122.70" stroke="#333" stroke-width="0.9"/>
<line x1="217.5" y1="111.92" x2="223.5" y2="111.92" stroke="#333" stroke-width="0.9"/>
<text x="226.8" y="116.02" class="t10">2.4</text>
<line x1="217.5" y1="101.14" x2="220.5" y2="101.14" stroke="#333" stroke-width="0.9"/>
<line x1="217.5" y1="90.36" x2="220.5" y2="90.36" stroke="#333" stroke-width="0.9"/>
<line x1="217.5" y1="79.58" x2="223.5" y2="79.58" stroke="#333" stroke-width="0.9"/>
<text x="226.8" y="83.68" class="t10">3.6</text>
<line x1="217.5" y1="68.80" x2="220.5" y2="68.80" stroke="#333" stroke-width="0.9"/>
<text transform="translate(248.9,122.7) rotate(90)" text-anchor="middle" class="t105">Frequency [%]</text>
<text x="45.7" y="62.5" text-anchor="end" class="t10">72°N</text>
<text x="45.7" y="79.4" text-anchor="end" class="t10">69°N</text>
<text x="45.7" y="95.5" text-anchor="end" class="t10">66°N</text>
<text x="45.7" y="111.0" text-anchor="end" class="t10">63°N</text>
<text x="45.7" y="125.2" text-anchor="end" class="t10">60°N</text>
<text x="45.7" y="139.4" text-anchor="end" class="t10">57°N</text>
<text x="45.7" y="153.2" text-anchor="end" class="t10">54°N</text>
<text x="45.7" y="166.9" text-anchor="end" class="t10">51°N</text>
<text x="272.5" y="51.0" class="b11">(b)</text>
<g transform="translate(272.5,57.5)"><g clip-path="url(#fr)">
<use href="#grat" fill="none" stroke="#dcdcdc" stroke-width="0.6"/>
<path d="M-1.0,106.6 -1.0,112.4 17.9,117.0 36.1,120.0 99.4,120.0 123.3,115.8 135.6,112.7 145.6,109.5 145.8,108.7 110.9,1.3 110.2,1.1 99.5,4.1 88.6,6.2 79.0,7.4 69.3,7.8 59.7,7.6 50.1,6.7 39.2,4.8 29.7,2.4 29.0,2.7Z" fill="#ffffff"/><path d="M-1.0,112.4 17.9,117.0 36.1,120.0 99.4,120.0 123.3,115.8 145.6,109.5 145.8,108.7 110.9,1.3 110.2,1.1 99.5,4.1 88.6,6.2 69.3,7.8 50.1,6.7 39.2,4.8 29.7,2.4 29.0,2.7 -1.0,106.6Z" fill="#d9dade"/><path d="M98.0,4.5 103.1,6.0 113.5,9.1 110.6,1.1ZM122.7,37.3 120.0,39.8 118.0,40.5 113.0,40.4 108.0,38.4 96.0,30.3 88.0,27.1 82.0,25.5 59.0,22.5 45.0,19.8 41.0,17.1 38.7,14.0 37.2,9.0 37.7,4.5 29.2,2.5 -1.0,106.6 -1.0,112.4 17.9,117.0 36.1,120.0 99.4,120.0 115.9,117.3 131.0,113.9 127.9,111.0 127.3,109.0 127.5,107.0 130.0,103.4 134.0,101.4 138.0,101.2 142.0,102.7 144.1,105.0 144.9,107.0 144.7,110.0 145.4,109.7 145.8,108.7ZM128.0,62.4 129.9,63.0 130.9,64.0 131.6,66.0 131.0,68.0 130.0,69.0 127.0,69.7 125.0,68.7 124.0,66.0 125.0,63.6 126.0,62.8Z" fill="#b3bbce"/><path d="M68.4,34.0 64.0,35.4 51.0,42.4 44.0,47.1 38.2,52.0 32.7,58.0 28.5,64.0 25.6,70.0 23.4,77.0 22.7,84.0 23.5,90.0 25.5,95.0 29.3,101.0 34.0,106.4 40.0,111.4 46.0,114.6 52.0,116.3 59.0,117.0 66.0,116.6 73.0,115.2 80.0,112.7 112.0,95.8 115.5,93.0 117.5,89.0 117.3,86.0 113.7,77.0 112.5,72.0 112.1,56.0 111.0,53.0 109.5,51.0 96.0,40.6 89.6,37.0 80.0,34.6 73.0,33.8Z" fill="#95a6cb"/><path d="M67.1,39.0 49.1,52.0 42.6,59.0 38.4,65.0 35.8,70.0 34.3,74.0 33.2,79.0 32.8,86.0 33.5,94.0 34.5,98.0 36.0,100.6 38.0,102.6 41.0,104.4 52.0,108.1 57.0,109.2 64.0,109.5 70.0,108.7 76.0,106.9 82.0,104.2 90.3,99.0 97.8,93.0 101.2,89.0 102.6,85.0 100.9,64.0 99.9,60.0 97.6,56.0 92.0,51.0 81.0,45.6 75.0,39.6 71.0,38.3Z" fill="#7291cc"/><path d="M68.3,42.0 51.0,54.9 43.9,63.0 40.5,69.0 38.3,75.0 37.3,84.0 37.0,92.0 37.2,96.0 37.9,98.0 41.0,100.8 48.0,102.2 54.0,104.4 58.0,105.2 64.0,105.3 70.0,104.4 76.0,102.3 81.6,99.0 86.2,95.0 89.7,90.0 90.5,87.0 89.9,83.0 83.8,72.0 78.0,65.3 70.6,61.0 69.0,59.5 68.7,58.0 69.2,56.0 74.0,47.0 74.1,45.0 73.3,43.0 72.0,41.9 70.0,41.5Z" fill="#4976bb"/><path d="M61.0,52.0 53.4,57.0 47.0,63.0 43.9,67.0 40.9,75.0 40.1,87.0 40.2,94.0 41.0,97.1 43.0,98.2 48.0,98.3 54.0,101.7 59.0,102.8 68.0,101.6 74.6,99.0 77.5,97.0 80.2,94.0 81.3,92.0 82.0,89.0 81.4,85.0 79.6,81.0 76.3,76.0 73.2,73.0 68.0,70.5 60.0,70.7 58.5,70.0 57.7,67.0 58.4,61.0 63.0,53.0 63.0,51.8Z" fill="#295b97"/><path d="M49.0,64.7 45.6,68.0 43.3,74.0 43.4,80.0 44.0,82.9 45.0,84.5 47.0,83.6 50.0,80.1 52.3,76.0 53.2,73.0 53.5,68.0 52.8,65.0 52.0,64.1 51.0,64.0ZM65.0,75.8 60.7,78.0 58.4,81.0 56.0,88.0 52.2,94.0 51.9,96.0 52.7,98.0 56.0,100.3 61.0,100.6 70.0,97.7 74.1,95.0 76.6,91.0 76.9,88.0 76.4,85.0 75.0,82.0 72.9,79.0 70.5,77.0 68.0,75.9Z" fill="#1b4470"/><path d="M49.0,68.7 47.0,70.0 45.9,73.0 46.0,75.0 47.0,76.0 49.0,75.1 50.4,72.0 50.0,69.4ZM64.0,81.4 61.8,84.0 59.7,90.0 55.4,95.0 55.5,97.0 57.0,98.2 60.0,98.4 63.6,97.0 69.4,94.0 72.2,91.0 72.7,87.0 71.0,83.0 68.0,80.8 66.0,80.6Z" fill="#132e4d"/><g clip-path="url(#fan)"><use href="#grat" fill="none" stroke="#000" stroke-opacity="0.15" stroke-width="0.6"/></g>
<use href="#coast" fill="none" stroke="#000" stroke-width="1.25" stroke-linejoin="round"/>
</g>
<rect x="0" y="0" width="145.0" height="119.0" fill="none" stroke="#111" stroke-width="1"/>
<rect x="97.3" y="106.0" width="51" height="17" fill="#fff" stroke="#555" stroke-width="1"/>
<text x="122.8" y="118.2" text-anchor="middle" class="t10">Max: 19.7</text>
</g>
<rect x="423.2" y="165.10" width="16.0" height="12.00" fill="#ffffff"/>
<rect x="423.2" y="153.40" width="16.0" height="12.00" fill="#d9dade"/>
<rect x="423.2" y="141.70" width="16.0" height="12.00" fill="#b3bbce"/>
<rect x="423.2" y="130.00" width="16.0" height="12.00" fill="#95a6cb"/>
<rect x="423.2" y="118.30" width="16.0" height="12.00" fill="#7291cc"/>
<rect x="423.2" y="106.60" width="16.0" height="12.00" fill="#4976bb"/>
<rect x="423.2" y="94.90" width="16.0" height="12.00" fill="#295b97"/>
<rect x="423.2" y="83.20" width="16.0" height="12.00" fill="#1b4470"/>
<rect x="423.2" y="71.50" width="16.0" height="12.00" fill="#132e4d"/>
<path d="M423.2,71.5 L431.2,57.5 L439.2,71.5 Z" fill="#0f2a47"/>
<path d="M423.2,176.8 L423.2,71.5 L431.2,57.5 L439.2,71.5 L439.2,176.8 Z" fill="none" stroke="#222" stroke-width="0.9"/>
<line x1="439.2" y1="176.80" x2="445.2" y2="176.80" stroke="#333" stroke-width="0.9"/>
<text x="448.5" y="180.90" class="t10">0</text>
<line x1="439.2" y1="165.10" x2="442.2" y2="165.10" stroke="#333" stroke-width="0.9"/>
<line x1="439.2" y1="153.40" x2="445.2" y2="153.40" stroke="#333" stroke-width="0.9"/>
<text x="448.5" y="157.50" class="t10">4</text>
<line x1="439.2" y1="141.70" x2="442.2" y2="141.70" stroke="#333" stroke-width="0.9"/>
<line x1="439.2" y1="130.00" x2="445.2" y2="130.00" stroke="#333" stroke-width="0.9"/>
<text x="448.5" y="134.10" class="t10">8</text>
<line x1="439.2" y1="118.30" x2="442.2" y2="118.30" stroke="#333" stroke-width="0.9"/>
<line x1="439.2" y1="106.60" x2="445.2" y2="106.60" stroke="#333" stroke-width="0.9"/>
<text x="448.5" y="110.70" class="t10">12</text>
<line x1="439.2" y1="94.90" x2="442.2" y2="94.90" stroke="#333" stroke-width="0.9"/>
<line x1="439.2" y1="83.20" x2="445.2" y2="83.20" stroke="#333" stroke-width="0.9"/>
<text x="448.5" y="87.30" class="t10">16</text>
<line x1="439.2" y1="71.50" x2="442.2" y2="71.50" stroke="#333" stroke-width="0.9"/>
<text transform="translate(479.0,124.2) rotate(90)" text-anchor="middle" class="t105">Total precipitation</text>
<text transform="translate(466.8,124.2) rotate(90)" text-anchor="middle" class="t105">fraction [%]</text>
<text x="50.5" y="196.5" class="b11">(c)</text>
<g transform="translate(50.5,203.0)"><g clip-path="url(#fr)">
<use href="#grat" fill="none" stroke="#dcdcdc" stroke-width="0.6"/>
<path d="M-1.0,106.6 -1.0,112.4 17.9,117.0 36.1,120.0 99.4,120.0 123.3,115.8 135.6,112.7 145.6,109.5 145.8,108.7 110.9,1.3 110.2,1.1 99.5,4.1 88.6,6.2 79.0,7.4 69.3,7.8 59.7,7.6 50.1,6.7 39.2,4.8 29.7,2.4 29.0,2.7Z" fill="#053f4e"/><path d="M71.0,119.9 88.0,109.0 104.0,96.4 119.1,82.0 132.2,66.7 111.1,1.6 110.6,1.1 90.0,6.0 70.7,7.8 52.8,7.0 40.5,5.1 29.7,2.4 28.8,3.0 -1.0,106.6 -1.0,112.4 17.9,117.0 36.1,120.0Z" fill="#1a4b45"/><path d="M41.5,5.3 32.0,12.3 24.1,19.2 0.0,103.1 6.0,106.2 12.0,107.7 19.0,108.1 27.0,107.6 36.0,105.9 45.0,103.3 54.0,99.9 63.0,95.5 71.0,90.8 79.0,85.3 87.0,78.9 94.4,72.0 101.0,65.0 107.3,57.0 112.6,49.0 116.4,42.0 119.8,34.0 120.7,31.2 110.6,1.1 92.7,5.5 76.2,7.5 59.7,7.6Z" fill="#2a5538"/><path d="M64.3,8.0 51.0,14.2 38.0,23.2 26.0,34.5 16.1,47.0 5.5,84.0 8.0,88.9 11.5,92.0 15.0,93.6 19.0,94.5 28.0,94.1 39.0,91.2 51.0,85.9 63.0,78.6 75.0,69.3 84.3,60.0 91.8,50.0 97.0,40.0 99.8,30.0 99.9,21.0 98.8,17.0 96.8,13.0 92.9,9.0 87.8,6.3 77.6,7.5Z" fill="#3c6330"/><path d="M67.1,15.0 62.0,16.3 56.0,18.8 44.0,25.9 32.2,36.0 22.8,47.0 15.7,59.0 13.4,65.0 12.2,70.0 11.9,75.0 12.6,79.0 14.0,82.1 16.8,85.0 22.0,87.1 29.0,87.2 37.0,85.2 46.0,81.3 55.0,75.9 64.0,69.0 72.3,61.0 78.8,53.0 83.6,45.0 86.8,37.0 87.9,30.0 87.2,24.0 84.6,19.0 80.0,15.7 74.0,14.4Z" fill="#4e7228"/><path d="M63.8,21.0 54.0,24.4 44.0,30.5 34.2,39.0 26.5,48.0 20.5,58.0 17.5,67.0 17.1,71.0 17.6,75.0 19.0,78.0 21.0,80.1 25.0,81.8 31.0,82.0 38.0,80.4 45.0,77.3 53.0,72.4 60.0,66.9 67.1,60.0 72.8,53.0 77.0,46.0 79.8,39.0 80.8,33.0 80.1,28.0 77.9,24.0 74.0,21.4 69.0,20.5Z" fill="#738a1e"/><path d="M59.9,26.0 52.0,29.1 43.0,34.9 35.2,42.0 28.6,50.0 24.0,58.0 21.6,66.0 21.9,72.0 23.0,74.4 25.0,76.3 29.0,77.8 33.0,77.8 39.0,76.4 45.0,73.7 52.0,69.4 58.0,64.6 63.7,59.0 68.6,53.0 72.2,47.0 74.7,41.0 75.5,36.0 75.0,31.5 73.0,28.1 70.0,26.1 65.0,25.3Z" fill="#a69a10"/><path d="M58.0,30.0 51.0,32.8 44.0,37.3 37.5,43.0 31.7,50.0 27.6,57.0 25.4,64.0 25.6,69.0 28.0,72.5 31.0,73.8 35.0,74.0 40.0,72.8 45.0,70.6 50.9,67.0 56.0,62.9 61.0,58.0 65.1,53.0 68.2,48.0 70.3,43.0 71.1,39.0 70.9,35.0 69.3,32.0 66.4,30.0 63.0,29.4Z" fill="#cbae3e"/><path d="M55.3,34.0 50.0,36.3 44.0,40.3 38.8,45.0 33.9,51.0 30.6,57.0 29.1,62.0 29.2,66.0 31.1,69.0 34.0,70.2 37.0,70.3 41.0,69.4 46.0,67.1 55.0,60.7 62.7,52.0 65.1,48.0 66.7,44.0 67.3,40.0 66.7,37.0 65.3,35.0 63.0,33.6 59.0,33.2Z" fill="#e8cc70"/><path d="M57.9,37.0 54.0,37.6 49.0,39.8 44.0,43.3 39.2,48.0 35.6,53.0 33.3,58.0 32.8,62.0 34.0,65.0 36.0,66.3 38.0,66.6 44.0,65.1 51.0,60.9 57.3,55.0 61.5,49.0 63.4,43.0 63.0,40.1 62.0,38.6 60.0,37.3Z" fill="#fee39a"/><path d="M51.3,42.0 45.0,45.9 39.5,52.0 37.9,55.0 37.2,58.0 37.4,60.0 39.0,61.9 43.0,62.0 48.0,59.7 53.8,55.0 57.7,50.0 59.3,46.0 58.8,43.0 57.9,42.0 56.0,41.3Z" fill="#fee39a"/><g clip-path="url(#fan)"><use href="#grat" fill="none" stroke="#000" stroke-opacity="0.15" stroke-width="0.6"/></g>
<use href="#coast" fill="none" stroke="#000" stroke-width="1.25" stroke-linejoin="round"/>
</g>
<rect x="0" y="0" width="145.0" height="119.0" fill="none" stroke="#111" stroke-width="1"/>
<rect x="102.8" y="106.0" width="45.5" height="17" fill="#fff" stroke="#555" stroke-width="1"/>
<text x="125.6" y="118.2" text-anchor="middle" class="t10">Max: 2.6</text>
</g>
<rect x="201.5" y="311.88" width="16.0" height="10.82" fill="#053f4e"/>
<rect x="201.5" y="301.36" width="16.0" height="10.82" fill="#1a4b45"/>
<rect x="201.5" y="290.84" width="16.0" height="10.82" fill="#2a5538"/>
<rect x="201.5" y="280.32" width="16.0" height="10.82" fill="#3c6330"/>
<rect x="201.5" y="269.80" width="16.0" height="10.82" fill="#4e7228"/>
<rect x="201.5" y="259.28" width="16.0" height="10.82" fill="#738a1e"/>
<rect x="201.5" y="248.76" width="16.0" height="10.82" fill="#a69a10"/>
<rect x="201.5" y="238.24" width="16.0" height="10.82" fill="#cbae3e"/>
<rect x="201.5" y="227.72" width="16.0" height="10.82" fill="#e8cc70"/>
<rect x="201.5" y="217.20" width="16.0" height="10.82" fill="#fee39a"/>
<path d="M201.5,217.2 L209.5,203.4 L217.5,217.2 Z" fill="#fee39a"/>
<path d="M201.5,322.4 L201.5,217.2 L209.5,203.4 L217.5,217.2 L217.5,322.4 Z" fill="none" stroke="#222" stroke-width="0.9"/>
<line x1="217.5" y1="322.40" x2="223.5" y2="322.40" stroke="#333" stroke-width="0.9"/>
<text x="226.8" y="326.50" class="t10">0</text>
<line x1="217.5" y1="311.88" x2="220.5" y2="311.88" stroke="#333" stroke-width="0.9"/>
<line x1="217.5" y1="301.36" x2="220.5" y2="301.36" stroke="#333" stroke-width="0.9"/>
<line x1="217.5" y1="290.84" x2="223.5" y2="290.84" stroke="#333" stroke-width="0.9"/>
<text x="226.8" y="294.94" class="t10">0.75</text>
<line x1="217.5" y1="280.32" x2="220.5" y2="280.32" stroke="#333" stroke-width="0.9"/>
<line x1="217.5" y1="269.80" x2="220.5" y2="269.80" stroke="#333" stroke-width="0.9"/>
<line x1="217.5" y1="259.28" x2="223.5" y2="259.28" stroke="#333" stroke-width="0.9"/>
<text x="226.8" y="263.38" class="t10">1.5</text>
<line x1="217.5" y1="248.76" x2="220.5" y2="248.76" stroke="#333" stroke-width="0.9"/>
<line x1="217.5" y1="238.24" x2="220.5" y2="238.24" stroke="#333" stroke-width="0.9"/>
<line x1="217.5" y1="227.72" x2="223.5" y2="227.72" stroke="#333" stroke-width="0.9"/>
<text x="226.8" y="231.82" class="t10">2.25</text>
<line x1="217.5" y1="217.20" x2="220.5" y2="217.20" stroke="#333" stroke-width="0.9"/>
<text transform="translate(253.9,269.8) rotate(90)" text-anchor="middle" class="t105">Frequency [%]</text>
<text x="45.7" y="208.0" text-anchor="end" class="t10">72°N</text>
<text x="45.7" y="224.9" text-anchor="end" class="t10">69°N</text>
<text x="45.7" y="241.0" text-anchor="end" class="t10">66°N</text>
<text x="45.7" y="256.5" text-anchor="end" class="t10">63°N</text>
<text x="45.7" y="270.7" text-anchor="end" class="t10">60°N</text>
<text x="45.7" y="284.9" text-anchor="end" class="t10">57°N</text>
<text x="45.7" y="298.7" text-anchor="end" class="t10">54°N</text>
<text x="45.7" y="312.4" text-anchor="end" class="t10">51°N</text>
<text x="272.5" y="196.5" class="b11">(d)</text>
<g transform="translate(272.5,203.0)"><g clip-path="url(#fr)">
<use href="#grat" fill="none" stroke="#dcdcdc" stroke-width="0.6"/>
<path d="M-1.0,106.6 -1.0,112.4 17.9,117.0 36.1,120.0 99.4,120.0 123.3,115.8 135.6,112.7 145.6,109.5 145.8,108.7 110.9,1.3 110.2,1.1 99.5,4.1 88.6,6.2 79.0,7.4 69.3,7.8 59.7,7.6 50.1,6.7 39.2,4.8 29.7,2.4 29.0,2.7Z" fill="#ffffff"/><path d="M-1.0,112.4 17.9,117.0 36.1,120.0 99.4,120.0 123.3,115.8 145.6,109.5 145.8,108.7 110.9,1.3 110.2,1.1 99.5,4.1 88.6,6.2 69.3,7.8 50.1,6.7 39.2,4.8 29.7,2.4 29.0,2.7 -1.0,106.6ZM82.0,63.8 87.0,63.9 92.2,66.0 96.0,69.2 98.5,74.0 99.0,78.0 97.7,83.0 94.6,88.0 90.8,92.0 84.0,96.9 70.0,105.1 66.0,106.9 48.0,110.6 37.0,113.6 33.0,113.3 29.0,110.8 27.3,108.0 26.8,105.0 27.7,102.0 29.4,100.0 32.0,98.5 49.0,92.4 57.0,88.0 63.9,82.0 71.0,71.6 74.0,68.2 78.0,65.2Z" fill="#d4d5da"/><path d="M10.5,67.0 12.8,73.0 17.0,79.0 22.0,83.4 28.0,86.7 35.0,88.8 41.0,89.3 47.0,88.4 53.0,85.6 56.3,83.0 58.8,80.0 72.0,58.1 80.0,47.0 90.0,39.7 108.0,33.9 111.0,31.8 114.2,28.0 117.3,20.7 111.0,1.4 110.2,1.1 99.5,4.1 88.6,6.2 69.3,7.8 50.1,6.7 29.1,2.6ZM118.0,96.1 113.0,97.4 109.0,99.6 105.3,103.0 103.4,106.0 102.5,109.0 102.8,113.0 104.0,116.0 106.4,119.0 120.9,116.3 137.5,112.2 137.6,109.0 136.9,106.0 135.3,103.0 132.5,100.0 129.3,98.0 126.0,96.7 122.0,96.0Z" fill="#aab4ca"/><path d="M19.3,36.2 20.5,43.0 22.8,65.0 25.8,73.0 30.1,79.0 35.0,82.9 40.0,84.7 46.0,84.6 51.0,82.4 55.0,78.6 68.4,55.0 76.1,43.0 80.8,39.0 88.0,34.1 93.0,32.0 103.0,28.9 106.4,27.0 108.3,25.0 110.0,21.8 110.7,18.0 110.4,15.0 109.2,12.0 107.0,9.4 104.0,7.6 101.0,6.7 97.0,6.6 82.0,9.2 72.0,10.1 70.0,9.5 67.8,7.8 48.7,6.5 29.4,2.4 28.8,3.0Z" fill="#8a9fcc"/><path d="M30.5,3.0 28.4,4.3 24.3,18.5 28.0,22.4 34.0,24.9 43.0,25.7 47.0,25.3 53.0,23.8 56.0,22.7 57.7,21.0 59.4,17.0 60.2,13.0 59.7,10.0 58.4,7.5 45.9,6.1ZM79.0,16.5 67.0,21.8 58.0,23.4 43.8,39.0 35.5,56.0 33.1,66.0 32.8,71.0 33.5,74.0 35.3,77.0 37.7,79.0 41.0,80.2 44.0,80.2 47.4,79.0 50.2,77.0 56.0,69.2 72.0,42.5 76.7,38.0 84.8,32.0 87.4,29.0 88.6,26.0 90.0,17.9 88.9,17.0 83.0,16.2Z" fill="#5e86cc"/><path d="M42.0,6.0 36.2,8.0 33.2,11.0 32.7,14.0 33.8,16.0 35.1,17.0 40.0,18.6 45.0,18.4 49.0,16.9 51.9,14.0 52.2,11.0 50.1,8.0 46.0,6.2ZM78.0,21.5 70.9,26.0 61.0,31.3 49.1,43.0 42.2,59.0 41.0,66.0 42.0,69.0 44.0,69.3 47.0,67.6 51.0,64.3 55.7,59.0 61.0,54.9 63.0,52.5 70.0,40.8 84.0,29.2 84.9,26.0 84.4,24.0 83.0,22.2 80.0,21.1Z" fill="#2f63a5"/><path d="M78.0,25.0 71.0,29.6 63.0,33.8 56.1,41.0 52.6,45.0 51.7,47.0 51.8,50.0 53.0,52.1 55.0,53.3 57.0,53.6 59.0,53.1 61.0,51.6 68.6,39.0 81.6,28.0 82.1,26.0 81.0,24.6 80.0,24.3Z" fill="#1d4a7a"/><path d="M64.1,39.0 60.0,41.5 55.0,46.7 54.8,49.0 56.0,50.4 58.0,50.7 60.0,49.1 63.8,41.0Z" fill="#142e4e"/><g clip-path="url(#fan)"><use href="#grat" fill="none" stroke="#000" stroke-opacity="0.15" stroke-width="0.6"/></g>
<use href="#coast" fill="none" stroke="#000" stroke-width="1.25" stroke-linejoin="round"/>
</g>
<rect x="0" y="0" width="145.0" height="119.0" fill="none" stroke="#111" stroke-width="1"/>
<rect x="97.3" y="106.0" width="51" height="17" fill="#fff" stroke="#555" stroke-width="1"/>
<text x="122.8" y="118.2" text-anchor="middle" class="t10">Max: 13.1</text>
</g>
<rect x="423.2" y="309.22" width="16.0" height="13.47" fill="#ffffff"/>
<rect x="423.2" y="296.05" width="16.0" height="13.47" fill="#d4d5da"/>
<rect x="423.2" y="282.88" width="16.0" height="13.47" fill="#aab4ca"/>
<rect x="423.2" y="269.70" width="16.0" height="13.47" fill="#8a9fcc"/>
<rect x="423.2" y="256.52" width="16.0" height="13.47" fill="#5e86cc"/>
<rect x="423.2" y="243.35" width="16.0" height="13.47" fill="#2f63a5"/>
<rect x="423.2" y="230.18" width="16.0" height="13.47" fill="#1d4a7a"/>
<rect x="423.2" y="217.00" width="16.0" height="13.47" fill="#142e4e"/>
<path d="M423.2,217.0 L431.2,203.6 L439.2,217.0 Z" fill="#0f2a47"/>
<path d="M423.2,322.4 L423.2,217.0 L431.2,203.6 L439.2,217.0 L439.2,322.4 Z" fill="none" stroke="#222" stroke-width="0.9"/>
<line x1="439.2" y1="322.40" x2="445.2" y2="322.40" stroke="#333" stroke-width="0.9"/>
<text x="448.5" y="326.50" class="t10">0</text>
<line x1="439.2" y1="309.22" x2="442.2" y2="309.22" stroke="#333" stroke-width="0.9"/>
<line x1="439.2" y1="296.05" x2="445.2" y2="296.05" stroke="#333" stroke-width="0.9"/>
<text x="448.5" y="300.15" class="t10">3</text>
<line x1="439.2" y1="282.88" x2="442.2" y2="282.88" stroke="#333" stroke-width="0.9"/>
<line x1="439.2" y1="269.70" x2="445.2" y2="269.70" stroke="#333" stroke-width="0.9"/>
<text x="448.5" y="273.80" class="t10">6</text>
<line x1="439.2" y1="256.52" x2="442.2" y2="256.52" stroke="#333" stroke-width="0.9"/>
<line x1="439.2" y1="243.35" x2="445.2" y2="243.35" stroke="#333" stroke-width="0.9"/>
<text x="448.5" y="247.45" class="t10">9</text>
<line x1="439.2" y1="230.18" x2="442.2" y2="230.18" stroke="#333" stroke-width="0.9"/>
<line x1="439.2" y1="217.00" x2="445.2" y2="217.00" stroke="#333" stroke-width="0.9"/>
<text x="448.5" y="221.10" class="t10">12</text>
<text transform="translate(479.2,269.7) rotate(90)" text-anchor="middle" class="t105">Total precipitation</text>
<text transform="translate(467.0,269.7) rotate(90)" text-anchor="middle" class="t105">fraction [%]</text>
<text x="50.5" y="342.2" class="b11">(e)</text>
<g transform="translate(50.5,348.7)"><g clip-path="url(#fr)">
<use href="#grat" fill="none" stroke="#dcdcdc" stroke-width="0.6"/>
<path d="M-1.0,106.6 -1.0,112.4 17.9,117.0 36.1,120.0 99.4,120.0 123.3,115.8 135.6,112.7 145.6,109.5 145.8,108.7 110.9,1.3 110.2,1.1 99.5,4.1 88.6,6.2 79.0,7.4 69.3,7.8 59.7,7.6 50.1,6.7 39.2,4.8 29.7,2.4 29.0,2.7Z" fill="#053f4e"/><path d="M77.3,29.0 62.0,30.9 46.0,34.2 31.0,38.7 16.9,44.2 -1.0,106.6 -1.0,112.4 17.9,117.0 36.1,120.0 87.2,120.0 103.0,113.5 116.0,106.6 128.5,98.0 138.5,89.0 139.2,88.3 121.0,32.1 111.0,30.0 100.0,28.8 89.0,28.5Z" fill="#1c4c43"/><path d="M71.9,41.0 56.0,43.5 41.0,47.5 26.0,53.2 12.3,60.4 -1.0,106.6 -1.0,109.0 4.0,111.4 11.0,113.7 19.0,115.3 28.0,116.2 37.0,116.3 47.0,115.6 66.0,112.3 85.0,106.4 102.0,98.4 110.0,93.4 116.0,88.8 122.0,83.1 126.0,78.0 130.0,70.0 130.8,66.0 130.8,62.5 128.1,55.0 125.6,52.0 122.0,49.0 113.0,44.5 101.0,41.4 87.0,40.3Z" fill="#2e5836"/><path d="M76.9,46.0 61.0,47.8 45.0,51.7 30.0,57.5 16.0,65.3 9.4,70.4 1.4,98.4 4.0,101.1 8.0,103.9 18.0,107.8 31.0,109.8 46.0,109.6 61.0,107.5 76.0,103.4 91.0,97.3 103.0,90.3 112.7,82.0 116.0,78.0 118.4,74.0 119.9,70.0 120.4,66.0 119.9,62.0 118.5,59.0 116.3,56.0 112.7,53.0 108.0,50.4 103.0,48.6 91.0,46.3Z" fill="#43692d"/><path d="M76.0,50.0 62.0,51.5 48.0,54.7 34.0,60.0 22.0,66.6 13.1,74.0 8.0,81.0 6.5,85.0 6.2,88.0 6.8,92.0 8.4,95.0 11.0,97.9 13.9,100.0 22.0,103.5 33.0,105.4 46.0,105.5 59.0,103.8 72.0,100.6 85.0,95.5 96.0,89.5 105.3,82.0 110.6,75.0 112.2,71.0 112.7,68.0 112.5,65.0 111.4,62.0 109.3,59.0 107.0,56.9 103.0,54.4 99.0,52.8 88.0,50.4Z" fill="#607e23"/><path d="M66.9,54.0 55.0,56.1 43.0,59.8 33.0,64.3 24.0,69.9 17.5,76.0 13.8,82.0 13.0,85.0 12.9,88.0 14.9,93.0 17.9,96.0 21.1,98.0 26.0,100.0 32.0,101.4 45.0,102.1 59.0,100.5 74.0,96.4 87.0,90.6 97.0,83.8 100.9,80.0 103.8,76.0 105.8,71.0 105.7,66.0 103.7,62.0 99.0,58.1 93.0,55.6 85.0,53.9 76.0,53.4Z" fill="#939415"/><path d="M67.7,57.0 57.0,58.7 47.0,61.5 38.0,65.3 30.0,70.1 24.2,75.0 20.1,81.0 19.1,86.0 19.7,89.0 20.9,91.0 23.0,93.2 26.0,95.2 30.0,96.9 35.0,98.1 46.0,98.9 58.0,97.7 70.0,94.7 81.3,90.0 90.8,84.0 96.7,78.0 99.3,73.0 99.7,69.0 98.3,65.0 95.0,61.6 90.0,59.0 84.0,57.5 76.0,56.7Z" fill="#c2a932"/><path d="M71.0,60.0 62.0,60.8 52.3,63.0 44.0,66.0 36.0,70.3 30.1,75.0 26.4,80.0 25.3,85.0 26.8,89.0 30.1,92.0 36.0,94.4 43.0,95.6 51.0,95.6 60.0,94.3 68.0,92.2 76.2,89.0 83.0,85.2 88.3,81.0 92.1,76.0 93.4,72.0 92.7,68.0 90.0,64.6 85.2,62.0 79.0,60.5Z" fill="#e4c86a"/><path d="M63.4,64.0 57.0,65.1 50.0,67.2 43.8,70.0 38.9,73.0 35.5,76.0 32.7,80.0 32.0,84.0 33.3,87.0 37.0,90.0 43.0,91.8 51.0,92.3 59.0,91.4 67.9,89.0 75.0,85.8 80.8,82.0 85.2,77.0 86.4,74.0 86.3,71.0 84.5,68.0 82.0,66.2 79.0,65.0 74.0,63.9Z" fill="#fee39a"/><path d="M58.4,69.0 49.4,72.0 43.3,76.0 41.0,78.8 40.1,81.0 40.1,83.0 41.2,85.0 44.1,87.0 48.0,88.1 54.0,88.4 60.0,87.5 66.0,85.7 71.5,83.0 75.3,80.0 77.5,77.0 78.1,75.0 77.8,73.0 76.3,71.0 74.0,69.6 67.0,68.2Z" fill="#fee39a"/><g clip-path="url(#fan)"><use href="#grat" fill="none" stroke="#000" stroke-opacity="0.15" stroke-width="0.6"/></g>
<use href="#coast" fill="none" stroke="#000" stroke-width="1.25" stroke-linejoin="round"/>
</g>
<rect x="0" y="0" width="145.0" height="119.0" fill="none" stroke="#111" stroke-width="1"/>
<rect x="102.8" y="106.0" width="45.5" height="17" fill="#fff" stroke="#555" stroke-width="1"/>
<text x="125.6" y="118.2" text-anchor="middle" class="t10">Max: 2.0</text>
</g>
<rect x="201.5" y="456.10" width="16.0" height="12.00" fill="#053f4e"/>
<rect x="201.5" y="444.40" width="16.0" height="12.00" fill="#1c4c43"/>
<rect x="201.5" y="432.70" width="16.0" height="12.00" fill="#2e5836"/>
<rect x="201.5" y="421.00" width="16.0" height="12.00" fill="#43692d"/>
<rect x="201.5" y="409.30" width="16.0" height="12.00" fill="#607e23"/>
<rect x="201.5" y="397.60" width="16.0" height="12.00" fill="#939415"/>
<rect x="201.5" y="385.90" width="16.0" height="12.00" fill="#c2a932"/>
<rect x="201.5" y="374.20" width="16.0" height="12.00" fill="#e4c86a"/>
<rect x="201.5" y="362.50" width="16.0" height="12.00" fill="#fee39a"/>
<path d="M201.5,362.5 L209.5,348.6 L217.5,362.5 Z" fill="#fee39a"/>
<path d="M201.5,467.8 L201.5,362.5 L209.5,348.6 L217.5,362.5 L217.5,467.8 Z" fill="none" stroke="#222" stroke-width="0.9"/>
<line x1="217.5" y1="467.80" x2="223.5" y2="467.80" stroke="#333" stroke-width="0.9"/>
<text x="226.8" y="471.90" class="t10">0</text>
<line x1="217.5" y1="456.10" x2="220.5" y2="456.10" stroke="#333" stroke-width="0.9"/>
<line x1="217.5" y1="444.40" x2="223.5" y2="444.40" stroke="#333" stroke-width="0.9"/>
<text x="226.8" y="448.50" class="t10">0.4</text>
<line x1="217.5" y1="432.70" x2="220.5" y2="432.70" stroke="#333" stroke-width="0.9"/>
<line x1="217.5" y1="421.00" x2="223.5" y2="421.00" stroke="#333" stroke-width="0.9"/>
<text x="226.8" y="425.10" class="t10">0.8</text>
<line x1="217.5" y1="409.30" x2="220.5" y2="409.30" stroke="#333" stroke-width="0.9"/>
<line x1="217.5" y1="397.60" x2="223.5" y2="397.60" stroke="#333" stroke-width="0.9"/>
<text x="226.8" y="401.70" class="t10">1.2</text>
<line x1="217.5" y1="385.90" x2="220.5" y2="385.90" stroke="#333" stroke-width="0.9"/>
<line x1="217.5" y1="374.20" x2="223.5" y2="374.20" stroke="#333" stroke-width="0.9"/>
<text x="226.8" y="378.30" class="t10">1.6</text>
<line x1="217.5" y1="362.50" x2="220.5" y2="362.50" stroke="#333" stroke-width="0.9"/>
<text transform="translate(248.9,415.1) rotate(90)" text-anchor="middle" class="t105">Frequency [%]</text>
<text x="45.7" y="353.7" text-anchor="end" class="t10">72°N</text>
<text x="45.7" y="370.6" text-anchor="end" class="t10">69°N</text>
<text x="45.7" y="386.7" text-anchor="end" class="t10">66°N</text>
<text x="45.7" y="402.2" text-anchor="end" class="t10">63°N</text>
<text x="45.7" y="416.4" text-anchor="end" class="t10">60°N</text>
<text x="45.7" y="430.6" text-anchor="end" class="t10">57°N</text>
<text x="45.7" y="444.4" text-anchor="end" class="t10">54°N</text>
<text x="45.7" y="458.1" text-anchor="end" class="t10">51°N</text>
<text x="272.5" y="342.2" class="b11">(f)</text>
<g transform="translate(272.5,348.7)"><g clip-path="url(#fr)">
<use href="#grat" fill="none" stroke="#dcdcdc" stroke-width="0.6"/>
<path d="M-1.0,106.6 -1.0,112.4 17.9,117.0 36.1,120.0 99.4,120.0 123.3,115.8 135.6,112.7 145.6,109.5 145.8,108.7 110.9,1.3 110.2,1.1 99.5,4.1 88.6,6.2 79.0,7.4 69.3,7.8 59.7,7.6 50.1,6.7 39.2,4.8 29.7,2.4 29.0,2.7Z" fill="#ffffff"/><path d="M-1.0,112.4 17.9,117.0 36.1,120.0 99.4,120.0 123.3,115.8 145.6,109.5 145.8,108.7 110.9,1.3 110.2,1.1 99.5,4.1 88.6,6.2 69.3,7.8 50.1,6.7 39.2,4.8 29.7,2.4 29.0,2.7 -1.0,106.6Z" fill="#dddde1"/><path d="M3.2,113.6 6.0,111.7 9.0,111.1 47.0,111.6 62.0,110.5 78.0,108.4 95.0,105.4 107.0,102.5 114.0,99.9 126.0,93.6 130.0,92.0 135.0,91.3 140.4,91.9 110.9,1.3 110.2,1.1 99.5,4.1 88.6,6.2 69.3,7.8 50.1,6.7 39.2,4.8 29.7,2.4 29.0,2.7 -1.0,106.6 -1.0,112.4Z" fill="#bbc1d0"/><path d="M76.9,10.0 38.0,14.1 26.0,12.6 0.3,102.1 6.0,102.0 26.0,103.8 46.0,104.5 61.8,103.0 88.0,99.0 98.0,96.5 105.0,93.6 109.2,91.0 121.0,81.5 134.5,73.9 115.1,13.9 89.0,10.0Z" fill="#9daccb"/><path d="M78.4,16.0 58.0,21.5 53.0,23.2 48.0,25.7 29.2,39.0 23.9,44.0 19.2,50.0 16.1,56.0 14.5,61.0 13.9,67.0 14.6,73.0 16.7,79.0 20.7,86.0 25.1,91.0 29.0,94.0 34.0,96.5 39.2,98.0 45.0,98.6 51.0,98.3 59.7,96.0 85.0,86.2 93.0,81.4 100.1,75.0 105.0,69.0 114.0,55.6 118.2,47.0 119.4,39.0 119.0,35.0 117.8,31.0 114.0,25.1 108.0,20.8 99.0,17.9 87.0,15.6Z" fill="#819acc"/><path d="M78.7,21.0 70.0,23.5 58.0,28.6 55.0,30.4 51.4,34.0 37.9,52.0 36.5,55.0 33.8,64.0 30.9,78.0 31.4,82.0 32.6,85.0 34.6,88.0 38.0,90.8 42.0,92.4 47.0,92.9 52.0,92.0 56.0,90.0 58.3,88.0 60.6,85.0 68.0,67.3 77.0,55.2 87.0,49.6 97.0,51.1 102.0,50.5 106.5,48.0 109.9,44.0 111.4,40.0 111.4,35.0 109.8,31.0 106.2,27.0 100.5,24.0 93.0,21.5 85.0,20.3Z" fill="#5e86cc"/><path d="M78.3,26.0 71.4,28.0 58.0,34.4 55.3,38.0 51.6,46.0 44.7,53.0 39.5,64.0 37.1,76.0 37.6,81.0 39.0,83.2 41.0,85.0 44.0,86.2 47.0,86.3 50.0,85.3 52.7,83.0 54.7,79.0 59.9,64.0 65.2,56.0 71.0,48.6 79.0,44.0 86.0,40.9 96.0,41.5 99.0,40.8 101.0,39.0 101.7,36.0 101.0,33.0 98.9,30.0 96.0,27.7 93.0,26.5 86.0,25.2Z" fill="#386aad"/><path d="M51.4,51.0 49.0,52.0 47.1,54.0 41.6,65.0 39.5,78.0 41.0,81.2 44.0,82.8 46.0,82.9 48.0,82.2 50.2,80.0 53.1,68.0 58.3,58.0 58.2,55.0 57.0,52.8 55.0,51.3Z" fill="#24548b"/><path d="M50.8,53.0 48.4,55.0 43.2,65.0 41.0,77.0 42.0,79.7 44.0,81.0 47.0,80.7 48.7,79.0 51.1,68.0 56.3,58.0 56.3,56.0 55.0,53.8 53.0,52.8Z" fill="#193f68"/><path d="M50.3,55.0 44.7,65.0 42.5,77.0 43.0,78.5 44.0,79.3 46.0,79.4 47.4,78.0 49.6,67.0 54.6,58.0 54.6,56.0 53.9,55.0 52.0,54.3Z" fill="#132d4d"/><g clip-path="url(#fan)"><use href="#grat" fill="none" stroke="#000" stroke-opacity="0.15" stroke-width="0.6"/></g>
<use href="#coast" fill="none" stroke="#000" stroke-width="1.25" stroke-linejoin="round"/>
</g>
<rect x="0" y="0" width="145.0" height="119.0" fill="none" stroke="#111" stroke-width="1"/>
<rect x="97.3" y="106.0" width="51" height="17" fill="#fff" stroke="#555" stroke-width="1"/>
<text x="122.8" y="118.2" text-anchor="middle" class="t10">Max: 15.1</text>
</g>
<rect x="423.2" y="457.27" width="16.0" height="10.83" fill="#ffffff"/>
<rect x="423.2" y="446.74" width="16.0" height="10.83" fill="#dddde1"/>
<rect x="423.2" y="436.21" width="16.0" height="10.83" fill="#bbc1d0"/>
<rect x="423.2" y="425.68" width="16.0" height="10.83" fill="#9daccb"/>
<rect x="423.2" y="415.15" width="16.0" height="10.83" fill="#819acc"/>
<rect x="423.2" y="404.62" width="16.0" height="10.83" fill="#5e86cc"/>
<rect x="423.2" y="394.09" width="16.0" height="10.83" fill="#386aad"/>
<rect x="423.2" y="383.56" width="16.0" height="10.83" fill="#24548b"/>
<rect x="423.2" y="373.03" width="16.0" height="10.83" fill="#193f68"/>
<rect x="423.2" y="362.50" width="16.0" height="10.83" fill="#132d4d"/>
<path d="M423.2,362.5 L431.2,348.6 L439.2,362.5 Z" fill="#0f2a47"/>
<path d="M423.2,467.8 L423.2,362.5 L431.2,348.6 L439.2,362.5 L439.2,467.8 Z" fill="none" stroke="#222" stroke-width="0.9"/>
<line x1="439.2" y1="467.80" x2="445.2" y2="467.80" stroke="#333" stroke-width="0.9"/>
<text x="448.5" y="471.90" class="t10">0</text>
<line x1="439.2" y1="457.27" x2="442.2" y2="457.27" stroke="#333" stroke-width="0.9"/>
<line x1="439.2" y1="446.74" x2="442.2" y2="446.74" stroke="#333" stroke-width="0.9"/>
<line x1="439.2" y1="436.21" x2="445.2" y2="436.21" stroke="#333" stroke-width="0.9"/>
<text x="448.5" y="440.31" class="t10">4.5</text>
<line x1="439.2" y1="425.68" x2="442.2" y2="425.68" stroke="#333" stroke-width="0.9"/>
<line x1="439.2" y1="415.15" x2="442.2" y2="415.15" stroke="#333" stroke-width="0.9"/>
<line x1="439.2" y1="404.62" x2="445.2" y2="404.62" stroke="#333" stroke-width="0.9"/>
<text x="448.5" y="408.72" class="t10">9</text>
<line x1="439.2" y1="394.09" x2="442.2" y2="394.09" stroke="#333" stroke-width="0.9"/>
<line x1="439.2" y1="383.56" x2="442.2" y2="383.56" stroke="#333" stroke-width="0.9"/>
<line x1="439.2" y1="373.03" x2="445.2" y2="373.03" stroke="#333" stroke-width="0.9"/>
<text x="448.5" y="377.13" class="t10">13.5</text>
<line x1="439.2" y1="362.50" x2="442.2" y2="362.50" stroke="#333" stroke-width="0.9"/>
<text transform="translate(486.79999999999995,415.1) rotate(90)" text-anchor="middle" class="t105">Total precipitation</text>
<text transform="translate(474.59999999999997,415.1) rotate(90)" text-anchor="middle" class="t105">fraction [%]</text>
<text x="50.5" y="487.8" class="b11">(g)</text>
<g transform="translate(50.5,494.3)"><g clip-path="url(#fr)">
<use href="#grat" fill="none" stroke="#dcdcdc" stroke-width="0.6"/>
<path d="M-1.0,106.6 -1.0,112.4 17.9,117.0 36.1,120.0 99.4,120.0 123.3,115.8 135.6,112.7 145.6,109.5 145.8,108.7 110.9,1.3 110.2,1.1 99.5,4.1 88.6,6.2 79.0,7.4 69.3,7.8 59.7,7.6 50.1,6.7 39.2,4.8 29.7,2.4 29.0,2.7Z" fill="#053f4e"/><path d="M129.6,114.0 127.6,107.0 122.0,92.8 118.7,82.0 115.8,61.0 115.2,49.0 116.3,34.0 117.7,30.0 119.6,27.7 110.9,1.3 110.2,1.1 94.1,5.3 81.8,7.1 68.0,7.8 53.5,7.1 53.0,11.0 51.0,14.0 47.0,16.6 43.0,17.6 37.0,17.2 32.0,15.3 29.0,12.9 27.0,9.2 -1.0,106.6 -1.0,112.4 17.9,117.0 36.1,120.0 99.4,120.0 115.9,117.3ZM73.0,35.2 74.4,37.0 74.4,39.0 73.0,40.6 71.0,40.8 69.0,39.0 68.9,37.0 70.8,35.0Z" fill="#22503e"/><path d="M8.0,76.1 12.0,77.3 16.0,81.2 19.0,86.6 21.9,95.0 22.9,101.0 22.5,107.0 21.0,112.3 17.9,117.0 36.1,120.0 99.4,120.0 118.1,116.9 116.3,108.0 111.5,97.0 110.3,93.0 107.9,77.0 104.6,64.0 103.9,59.0 104.4,52.0 109.0,30.5 112.0,22.3 115.9,16.5 111.0,1.4 110.2,1.1 100.8,3.8 90.0,6.0 72.9,7.7 72.1,13.0 69.1,23.0 70.6,25.0 75.0,27.7 78.0,30.6 80.3,35.0 80.9,39.0 80.4,42.0 79.0,44.9 77.0,46.9 74.0,48.4 69.0,48.4 66.0,47.0 64.0,45.2 61.4,41.0 59.6,33.0 59.0,31.7 58.0,31.1 50.0,30.8 35.0,27.6 22.0,26.6ZM67.0,61.5 70.0,61.6 74.0,63.8 77.0,67.6 78.6,72.0 79.0,78.0 78.0,84.6 76.0,88.1 73.0,89.6 69.0,88.9 66.0,86.6 63.7,83.0 62.0,78.0 61.4,72.0 62.0,67.0 64.0,63.2Z" fill="#3c6330"/><path d="M95.0,11.1 92.0,13.1 89.2,17.0 87.7,21.0 87.2,26.0 87.9,31.0 90.0,36.0 92.0,38.2 95.0,39.3 98.0,37.9 101.0,33.6 103.6,26.0 104.5,19.0 103.9,15.0 102.0,12.2 99.0,10.6ZM31.0,37.2 28.0,38.9 25.4,42.0 23.5,46.0 22.3,51.0 21.7,57.0 21.9,64.0 22.8,70.0 24.7,78.0 34.2,104.0 38.0,110.7 42.0,114.5 46.0,116.4 50.0,117.1 55.0,116.4 61.6,113.0 63.7,111.0 64.4,109.0 58.0,96.7 55.5,90.0 54.7,85.0 53.6,65.0 51.6,55.0 47.7,46.0 43.0,40.3 40.0,38.1 37.0,36.9 34.0,36.6Z" fill="#607e23"/><path d="M32.1,45.0 30.0,46.9 28.2,50.0 26.4,57.0 26.3,66.0 28.2,76.0 30.7,83.0 40.3,104.0 42.8,107.0 45.0,108.6 48.0,109.4 50.0,109.2 52.7,107.0 53.5,103.0 49.6,89.0 50.1,72.0 48.3,60.0 45.1,52.0 41.0,46.5 38.0,44.5 36.0,44.0 34.0,44.1Z" fill="#a69a10"/><path d="M33.7,51.0 31.3,54.0 29.7,59.0 29.4,65.0 30.3,72.0 32.2,78.0 35.0,83.4 39.0,88.0 41.0,89.2 42.0,89.2 44.0,86.7 46.5,78.0 46.9,71.0 46.0,64.0 44.0,57.9 41.0,53.0 39.0,51.2 37.0,50.3Z" fill="#dabd57"/><path d="M35.4,57.0 34.0,58.4 32.7,62.0 32.5,66.0 32.9,70.0 34.1,74.0 36.0,77.7 38.0,79.6 40.0,80.1 42.0,78.5 43.4,75.0 43.8,71.0 43.3,66.0 42.0,61.8 40.0,58.4 38.0,56.8Z" fill="#fee39a"/><g clip-path="url(#fan)"><use href="#grat" fill="none" stroke="#000" stroke-opacity="0.15" stroke-width="0.6"/></g>
<use href="#coast" fill="none" stroke="#000" stroke-width="1.25" stroke-linejoin="round"/>
</g>
<rect x="0" y="0" width="145.0" height="119.0" fill="none" stroke="#111" stroke-width="1"/>
<rect x="102.8" y="106.0" width="45.5" height="17" fill="#fff" stroke="#555" stroke-width="1"/>
<text x="125.6" y="118.2" text-anchor="middle" class="t10">Max: 1.1</text>
</g>
<rect x="201.5" y="598.44" width="16.0" height="15.36" fill="#053f4e"/>
<rect x="201.5" y="583.39" width="16.0" height="15.36" fill="#22503e"/>
<rect x="201.5" y="568.33" width="16.0" height="15.36" fill="#3c6330"/>
<rect x="201.5" y="553.27" width="16.0" height="15.36" fill="#607e23"/>
<rect x="201.5" y="538.21" width="16.0" height="15.36" fill="#a69a10"/>
<rect x="201.5" y="523.16" width="16.0" height="15.36" fill="#dabd57"/>
<rect x="201.5" y="508.10" width="16.0" height="15.36" fill="#fee39a"/>
<path d="M201.5,508.1 L209.5,494.6 L217.5,508.1 Z" fill="#fee39a"/>
<path d="M201.5,613.5 L201.5,508.1 L209.5,494.6 L217.5,508.1 L217.5,613.5 Z" fill="none" stroke="#222" stroke-width="0.9"/>
<line x1="217.5" y1="613.50" x2="223.5" y2="613.50" stroke="#333" stroke-width="0.9"/>
<text x="226.8" y="617.60" class="t10">0</text>
<line x1="217.5" y1="598.44" x2="220.5" y2="598.44" stroke="#333" stroke-width="0.9"/>
<line x1="217.5" y1="583.39" x2="223.5" y2="583.39" stroke="#333" stroke-width="0.9"/>
<text x="226.8" y="587.49" class="t10">0.3</text>
<line x1="217.5" y1="568.33" x2="220.5" y2="568.33" stroke="#333" stroke-width="0.9"/>
<line x1="217.5" y1="553.27" x2="223.5" y2="553.27" stroke="#333" stroke-width="0.9"/>
<text x="226.8" y="557.37" class="t10">0.6</text>
<line x1="217.5" y1="538.21" x2="220.5" y2="538.21" stroke="#333" stroke-width="0.9"/>
<line x1="217.5" y1="523.16" x2="223.5" y2="523.16" stroke="#333" stroke-width="0.9"/>
<text x="226.8" y="527.26" class="t10">0.9</text>
<line x1="217.5" y1="508.10" x2="220.5" y2="508.10" stroke="#333" stroke-width="0.9"/>
<text transform="translate(248.9,560.8) rotate(90)" text-anchor="middle" class="t105">Frequency [%]</text>
<text x="45.7" y="499.3" text-anchor="end" class="t10">72°N</text>
<text x="45.7" y="516.2" text-anchor="end" class="t10">69°N</text>
<text x="45.7" y="532.3" text-anchor="end" class="t10">66°N</text>
<text x="45.7" y="547.8" text-anchor="end" class="t10">63°N</text>
<text x="45.7" y="562.0" text-anchor="end" class="t10">60°N</text>
<text x="45.7" y="576.2" text-anchor="end" class="t10">57°N</text>
<text x="45.7" y="590.0" text-anchor="end" class="t10">54°N</text>
<text x="45.7" y="603.7" text-anchor="end" class="t10">51°N</text>
<text x="78.2" y="625.6" text-anchor="middle" class="t10">0°</text>
<text x="103.7" y="625.6" text-anchor="middle" class="t10">10°E</text>
<text x="129.6" y="625.6" text-anchor="middle" class="t10">20°E</text>
<text x="156.2" y="625.6" text-anchor="middle" class="t10">30°E</text>
<text x="185.3" y="625.6" text-anchor="middle" class="t10">40°E</text>
<text x="272.5" y="487.8" class="b11">(h)</text>
<g transform="translate(272.5,494.3)"><g clip-path="url(#fr)">
<use href="#grat" fill="none" stroke="#dcdcdc" stroke-width="0.6"/>
<path d="M-1.0,106.6 -1.0,112.4 17.9,117.0 36.1,120.0 99.4,120.0 123.3,115.8 135.6,112.7 145.6,109.5 145.8,108.7 110.9,1.3 110.2,1.1 99.5,4.1 88.6,6.2 79.0,7.4 69.3,7.8 59.7,7.6 50.1,6.7 39.2,4.8 29.7,2.4 29.0,2.7Z" fill="#ffffff"/><path d="M-1.0,112.4 17.9,117.0 36.1,120.0 99.4,120.0 123.3,115.8 145.6,109.5 145.8,108.7 110.9,1.3 110.2,1.1 99.5,4.1 88.6,6.2 69.3,7.8 50.1,6.7 39.2,4.8 29.7,2.4 29.0,2.7 -1.0,106.6Z" fill="#d9dade"/><path d="M-1.0,112.4 17.9,117.0 36.1,120.0 99.4,120.0 123.3,115.8 145.6,109.5 145.8,108.7 110.9,1.3 110.2,1.1 99.5,4.1 88.6,6.2 69.3,7.8 50.1,6.7 39.2,4.8 29.7,2.4 29.0,2.7 -1.0,106.6Z" fill="#b3bbce"/><path d="M-1.0,112.4 17.9,117.0 36.1,120.0 99.4,120.0 123.3,115.8 145.6,109.5 145.8,108.7 110.9,1.3 110.2,1.1 99.5,4.1 88.6,6.2 69.3,7.8 50.1,6.7 39.2,4.8 29.7,2.4 29.0,2.7 -1.0,106.6Z" fill="#95a6cb"/><path d="M69.1,8.0 66.7,12.0 62.6,16.0 57.1,20.0 49.7,24.0 42.0,27.1 34.0,29.5 27.0,30.6 20.8,30.7 -1.0,106.6 -1.0,112.4 17.9,117.0 36.1,120.0 99.4,120.0 123.3,115.8 145.5,109.7 145.8,108.7 111.0,1.4 110.2,1.1 99.5,4.1 88.6,6.2ZM124.0,58.2 127.0,58.7 128.8,60.0 130.0,62.0 130.4,64.0 130.1,66.0 129.0,68.0 127.0,69.5 125.0,69.9 123.0,69.6 121.0,68.4 119.2,65.0 119.2,63.0 120.0,60.9 121.9,59.0ZM107.0,109.8 109.2,110.0 111.0,111.0 111.2,112.0 110.5,113.0 108.6,114.0 106.0,114.3 103.9,114.0 102.5,113.0 102.3,112.0 103.1,111.0Z" fill="#7291cc"/><path d="M89.5,16.0 82.0,18.6 71.0,23.4 54.0,34.0 33.0,45.3 26.4,50.0 21.7,56.0 18.7,63.0 17.1,71.0 16.8,80.0 18.1,89.0 20.5,96.0 24.1,102.0 29.0,107.2 35.0,111.5 41.0,114.4 48.0,116.2 54.0,116.4 59.0,115.5 65.0,112.6 83.0,101.1 103.8,91.0 107.0,88.6 109.0,86.0 109.7,84.0 109.8,81.0 107.1,69.0 106.7,62.0 107.8,55.0 111.8,42.0 112.0,37.0 111.1,31.0 108.0,24.0 103.0,18.9 97.0,16.1 93.0,15.6Z" fill="#4976bb"/><path d="M92.0,22.1 77.0,26.7 72.0,29.6 59.1,40.0 46.7,51.0 36.0,58.6 31.9,63.0 29.3,68.0 27.9,73.0 27.1,80.0 27.3,86.0 28.5,91.0 30.5,95.0 33.7,99.0 37.0,101.7 41.0,103.7 45.0,104.8 50.0,105.0 54.0,104.2 58.0,102.4 73.0,93.5 77.0,90.3 79.7,87.0 81.4,83.0 81.9,79.0 81.3,75.0 78.8,68.0 79.2,64.0 88.0,51.0 91.0,48.3 99.0,43.0 101.0,41.0 102.9,38.0 103.7,35.0 103.8,32.0 103.1,29.0 100.0,24.6 98.0,23.3 95.0,22.2Z" fill="#295b97"/><path d="M89.8,27.0 77.6,31.0 64.3,43.0 62.3,46.0 61.1,49.0 60.6,57.0 60.0,58.1 51.0,59.2 45.0,60.8 40.0,63.2 35.8,67.0 34.0,70.0 32.5,74.0 31.7,79.0 31.6,84.0 33.5,91.0 35.4,94.0 38.5,97.0 42.0,99.0 45.0,99.8 49.0,99.8 52.0,99.1 58.2,95.0 67.1,86.0 68.6,83.0 68.9,79.0 64.3,66.0 63.5,61.0 65.0,59.6 72.0,57.7 76.0,55.6 86.9,43.0 96.0,38.5 98.0,37.0 99.2,35.0 99.6,33.0 99.4,31.0 98.0,28.4 96.0,26.9 94.0,26.4Z" fill="#1b4470"/><path d="M81.0,35.1 76.0,38.9 68.5,46.0 67.7,49.0 69.0,51.4 72.0,52.1 74.2,51.0 83.0,38.4 86.8,35.0 85.0,34.6ZM43.0,67.2 39.0,70.0 36.5,74.0 35.3,79.0 35.5,85.0 37.5,90.0 41.0,93.8 45.0,95.5 49.0,95.4 53.0,93.4 57.0,89.0 59.4,84.0 59.7,79.0 57.8,74.0 54.0,69.7 51.0,67.8 48.0,66.8Z" fill="#132e4d"/><path d="M43.0,73.0 41.0,74.6 39.6,77.0 39.0,80.0 39.3,84.0 40.5,87.0 43.0,89.7 45.0,90.8 48.0,90.8 51.0,89.1 53.0,86.4 54.0,83.0 53.9,80.0 52.0,76.1 49.0,73.5 46.0,72.4Z" fill="#0f2a47"/><g clip-path="url(#fan)"><use href="#grat" fill="none" stroke="#000" stroke-opacity="0.15" stroke-width="0.6"/></g>
<use href="#coast" fill="none" stroke="#000" stroke-width="1.25" stroke-linejoin="round"/>
</g>
<rect x="0" y="0" width="145.0" height="119.0" fill="none" stroke="#111" stroke-width="1"/>
<rect x="102.8" y="106.0" width="45.5" height="17" fill="#fff" stroke="#555" stroke-width="1"/>
<text x="125.6" y="118.2" text-anchor="middle" class="t10">Max: 7.8</text>
</g>
<rect x="423.2" y="601.79" width="16.0" height="12.01" fill="#ffffff"/>
<rect x="423.2" y="590.08" width="16.0" height="12.01" fill="#d9dade"/>
<rect x="423.2" y="578.37" width="16.0" height="12.01" fill="#b3bbce"/>
<rect x="423.2" y="566.66" width="16.0" height="12.01" fill="#95a6cb"/>
<rect x="423.2" y="554.94" width="16.0" height="12.01" fill="#7291cc"/>
<rect x="423.2" y="543.23" width="16.0" height="12.01" fill="#4976bb"/>
<rect x="423.2" y="531.52" width="16.0" height="12.01" fill="#295b97"/>
<rect x="423.2" y="519.81" width="16.0" height="12.01" fill="#1b4470"/>
<rect x="423.2" y="508.10" width="16.0" height="12.01" fill="#132e4d"/>
<path d="M423.2,508.1 L431.2,494.6 L439.2,508.1 Z" fill="#0f2a47"/>
<path d="M423.2,613.5 L423.2,508.1 L431.2,494.6 L439.2,508.1 L439.2,613.5 Z" fill="none" stroke="#222" stroke-width="0.9"/>
<line x1="439.2" y1="613.50" x2="445.2" y2="613.50" stroke="#333" stroke-width="0.9"/>
<text x="448.5" y="617.60" class="t10">0</text>
<line x1="439.2" y1="601.79" x2="442.2" y2="601.79" stroke="#333" stroke-width="0.9"/>
<line x1="439.2" y1="590.08" x2="445.2" y2="590.08" stroke="#333" stroke-width="0.9"/>
<text x="448.5" y="594.18" class="t10">1.6</text>
<line x1="439.2" y1="578.37" x2="442.2" y2="578.37" stroke="#333" stroke-width="0.9"/>
<line x1="439.2" y1="566.66" x2="445.2" y2="566.66" stroke="#333" stroke-width="0.9"/>
<text x="448.5" y="570.76" class="t10">3.2</text>
<line x1="439.2" y1="554.94" x2="442.2" y2="554.94" stroke="#333" stroke-width="0.9"/>
<line x1="439.2" y1="543.23" x2="445.2" y2="543.23" stroke="#333" stroke-width="0.9"/>
<text x="448.5" y="547.33" class="t10">4.8</text>
<line x1="439.2" y1="531.52" x2="442.2" y2="531.52" stroke="#333" stroke-width="0.9"/>
<line x1="439.2" y1="519.81" x2="445.2" y2="519.81" stroke="#333" stroke-width="0.9"/>
<text x="448.5" y="523.91" class="t10">6.4</text>
<line x1="439.2" y1="508.10" x2="442.2" y2="508.10" stroke="#333" stroke-width="0.9"/>
<text transform="translate(481.7,560.8) rotate(90)" text-anchor="middle" class="t105">Total precipitation</text>
<text transform="translate(469.5,560.8) rotate(90)" text-anchor="middle" class="t105">fraction [%]</text>
<text x="300.2" y="625.6" text-anchor="middle" class="t10">0°</text>
<text x="325.7" y="625.6" text-anchor="middle" class="t10">10°E</text>
<text x="351.6" y="625.6" text-anchor="middle" class="t10">20°E</text>
<text x="378.2" y="625.6" text-anchor="middle" class="t10">30°E</text>
<text x="407.4" y="625.6" text-anchor="middle" class="t10">40°E</text>
</svg></body></html>
